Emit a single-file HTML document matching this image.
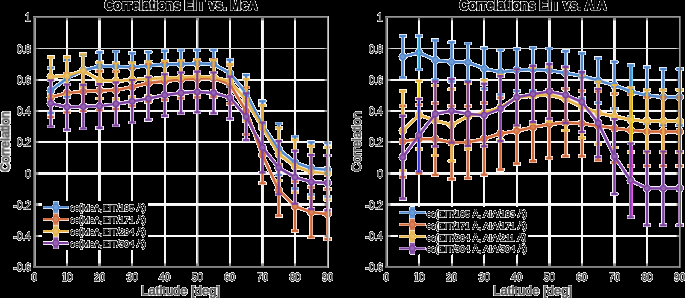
<!DOCTYPE html>
<html><head><meta charset="utf-8"><style>
html,body{margin:0;padding:0;background:#000;overflow:hidden;}
svg{display:block;will-change:transform;}
text{font-family:"Liberation Sans",sans-serif;}
.tl{font-size:10.1px;fill:#454545;stroke:#454545;stroke-width:0.5px;}
.ti{font-size:13px;font-weight:bold;fill:#000;stroke:#000;stroke-width:0.85px;}
.xl{font-size:13px;fill:#5a5a5a;stroke:#5a5a5a;stroke-width:0.85px;}
.yl{font-size:12.3px;fill:#5a5a5a;stroke:#5a5a5a;stroke-width:0.85px;}
.lg{font-size:9.05px;fill:#101010;stroke:#101010;stroke-width:0.5px;}
</style></head>
<body><svg width="685" height="298" viewBox="0 0 685 298">
<defs><filter id="wk" filterUnits="userSpaceOnUse" x="0" y="0" width="685" height="298" color-interpolation-filters="sRGB">
<feColorMatrix in="SourceGraphic" type="matrix" values="0 0 0 0 0  0 0 0 0 0  0 0 0 0 0  0.3333 0.3333 0.3334 0 0" result="lum"/>
<feComponentTransfer in="lum" result="mask"><feFuncA type="linear" slope="255.0" intercept="-254.0"/></feComponentTransfer>
<feComposite in="SourceGraphic" in2="mask" operator="out"/>
</filter></defs>
<rect width="685" height="298" fill="#000"/>
<g filter="url(#wk)">
<rect width="685" height="298" fill="#fff"/>
<rect x="66" y="18" width="1" height="248" fill="#fafafa"/>
<rect x="67" y="18" width="1" height="248" fill="#f2f2f2"/>
<rect x="98" y="18" width="1" height="248" fill="#fafafa"/>
<rect x="99" y="18" width="1" height="248" fill="#f5f5f5"/>
<rect x="100" y="18" width="1" height="248" fill="#f0f0f0"/>
<rect x="131" y="18" width="1" height="248" fill="#fafafa"/>
<rect x="132" y="18" width="1" height="248" fill="#f5f5f5"/>
<rect x="164" y="18" width="1" height="248" fill="#fafafa"/>
<rect x="165" y="18" width="1" height="248" fill="#f5f5f5"/>
<rect x="196" y="18" width="1" height="248" fill="#fafafa"/>
<rect x="197" y="18" width="1" height="248" fill="#cdcdcd"/>
<rect x="198" y="18" width="1" height="248" fill="#646464"/>
<rect x="229" y="18" width="1" height="248" fill="#fafafa"/>
<rect x="230" y="18" width="1" height="248" fill="#f5f5f5"/>
<rect x="261" y="18" width="1" height="248" fill="#fafafa"/>
<rect x="262" y="18" width="1" height="248" fill="#f2f2f2"/>
<rect x="263" y="18" width="1" height="248" fill="#eeeeee"/>
<rect x="294" y="18" width="1" height="248" fill="#fafafa"/>
<rect x="295" y="18" width="1" height="248" fill="#f5f5f5"/>
<rect x="36" y="48" width="291" height="1" fill="#d7d7d7"/>
<rect x="36" y="79" width="291" height="1" fill="#fafafa"/>
<rect x="36" y="80" width="291" height="1" fill="#f5f5f5"/>
<rect x="36" y="110" width="291" height="1" fill="#fafafa"/>
<rect x="36" y="111" width="291" height="1" fill="#f5f5f5"/>
<rect x="36" y="141" width="291" height="1" fill="#fafafa"/>
<rect x="36" y="142" width="291" height="1" fill="#f5f5f5"/>
<rect x="36" y="172" width="291" height="1" fill="#fafafa"/>
<rect x="36" y="173" width="291" height="1" fill="#f5f5f5"/>
<rect x="36" y="174" width="291" height="1" fill="#f0f0f0"/>
<rect x="36" y="203" width="291" height="1" fill="#fafafa"/>
<rect x="36" y="204" width="291" height="1" fill="#fafafa"/>
<rect x="36" y="205" width="291" height="1" fill="#f0f0f0"/>
<rect x="36" y="235" width="291" height="1" fill="#fafafa"/>
<rect x="36" y="236" width="291" height="1" fill="#fafafa"/>
<path d="M50.72 67.22V113.53M47.12 67.72h7.2M47.12 113.03h7.2" stroke="#b9cfeb" stroke-width="3.1" fill="none"/>
<path d="M67.00 59.41V97.28M63.40 59.91h7.2M63.40 96.78h7.2" stroke="#b9cfeb" stroke-width="3.1" fill="none"/>
<path d="M83.29 54.25V86.50M79.69 54.75h7.2M79.69 86.00h7.2" stroke="#b9cfeb" stroke-width="3.1" fill="none"/>
<path d="M99.57 51.75V80.88M95.97 52.25h7.2M95.97 80.38h7.2" stroke="#b9cfeb" stroke-width="3.1" fill="none"/>
<path d="M115.86 50.97V81.66M112.26 51.47h7.2M112.26 81.16h7.2" stroke="#b9cfeb" stroke-width="3.1" fill="none"/>
<path d="M132.14 52.69V81.81M128.54 53.19h7.2M128.54 81.31h7.2" stroke="#b9cfeb" stroke-width="3.1" fill="none"/>
<path d="M148.43 51.44V79.94M144.83 51.94h7.2M144.83 79.44h7.2" stroke="#b9cfeb" stroke-width="3.1" fill="none"/>
<path d="M164.71 50.34V77.91M161.11 50.84h7.2M161.11 77.41h7.2" stroke="#b9cfeb" stroke-width="3.1" fill="none"/>
<path d="M181.00 49.72V78.53M177.40 50.22h7.2M177.40 78.03h7.2" stroke="#b9cfeb" stroke-width="3.1" fill="none"/>
<path d="M197.29 49.56V77.12M193.69 50.06h7.2M193.69 76.62h7.2" stroke="#b9cfeb" stroke-width="3.1" fill="none"/>
<path d="M213.57 49.56V78.69M209.97 50.06h7.2M209.97 78.19h7.2" stroke="#b9cfeb" stroke-width="3.1" fill="none"/>
<path d="M229.86 59.41V86.97M226.26 59.91h7.2M226.26 86.47h7.2" stroke="#b9cfeb" stroke-width="3.1" fill="none"/>
<path d="M246.14 74.56V112.12M242.54 75.06h7.2M242.54 111.62h7.2" stroke="#b9cfeb" stroke-width="3.1" fill="none"/>
<path d="M262.43 100.81V149.31M258.83 101.31h7.2M258.83 148.81h7.2" stroke="#b9cfeb" stroke-width="3.1" fill="none"/>
<path d="M278.71 123.00V175.56M275.11 123.50h7.2M275.11 175.06h7.2" stroke="#b9cfeb" stroke-width="3.1" fill="none"/>
<path d="M295.00 135.97V189.16M291.40 136.47h7.2M291.40 188.66h7.2" stroke="#b9cfeb" stroke-width="3.1" fill="none"/>
<path d="M311.28 141.75V194.94M307.68 142.25h7.2M307.68 194.44h7.2" stroke="#b9cfeb" stroke-width="3.1" fill="none"/>
<path d="M327.57 142.53V196.97M323.97 143.03h7.2M323.97 196.47h7.2" stroke="#b9cfeb" stroke-width="3.1" fill="none"/>
<polyline points="50.72,90.38 67.00,78.34 83.29,70.38 99.57,66.31 115.86,66.31 132.14,67.25 148.43,65.69 164.71,64.13 181.00,64.13 197.29,63.34 213.57,64.13 229.86,73.19 246.14,93.34 262.43,125.06 278.71,149.28 295.00,162.56 311.28,168.34 327.57,169.75" fill="none" stroke="#b9cfeb" stroke-width="3.2" stroke-linejoin="round"/>
<circle cx="50.72" cy="90.38" r="3.8" fill="#b9cfeb"/>
<circle cx="67.00" cy="78.34" r="3.8" fill="#b9cfeb"/>
<circle cx="83.29" cy="70.38" r="3.8" fill="#b9cfeb"/>
<circle cx="99.57" cy="66.31" r="3.8" fill="#b9cfeb"/>
<circle cx="115.86" cy="66.31" r="3.8" fill="#b9cfeb"/>
<circle cx="132.14" cy="67.25" r="3.8" fill="#b9cfeb"/>
<circle cx="148.43" cy="65.69" r="3.8" fill="#b9cfeb"/>
<circle cx="164.71" cy="64.13" r="3.8" fill="#b9cfeb"/>
<circle cx="181.00" cy="64.13" r="3.8" fill="#b9cfeb"/>
<circle cx="197.29" cy="63.34" r="3.8" fill="#b9cfeb"/>
<circle cx="213.57" cy="64.13" r="3.8" fill="#b9cfeb"/>
<circle cx="229.86" cy="73.19" r="3.8" fill="#b9cfeb"/>
<circle cx="246.14" cy="93.34" r="3.8" fill="#b9cfeb"/>
<circle cx="262.43" cy="125.06" r="3.8" fill="#b9cfeb"/>
<circle cx="278.71" cy="149.28" r="3.8" fill="#b9cfeb"/>
<circle cx="295.00" cy="162.56" r="3.8" fill="#b9cfeb"/>
<circle cx="311.28" cy="168.34" r="3.8" fill="#b9cfeb"/>
<circle cx="327.57" cy="169.75" r="3.8" fill="#b9cfeb"/>
<path d="M50.72 77.06V117.44M47.12 77.56h7.2M47.12 116.94h7.2" stroke="#ecc3b0" stroke-width="3.1" fill="none"/>
<path d="M67.00 73.00V113.06M63.40 73.50h7.2M63.40 112.56h7.2" stroke="#ecc3b0" stroke-width="3.1" fill="none"/>
<path d="M83.29 71.44V111.50M79.69 71.94h7.2M79.69 111.00h7.2" stroke="#ecc3b0" stroke-width="3.1" fill="none"/>
<path d="M99.57 70.66V110.72M95.97 71.16h7.2M95.97 110.22h7.2" stroke="#ecc3b0" stroke-width="3.1" fill="none"/>
<path d="M115.86 70.97V109.47M112.26 71.47h7.2M112.26 108.97h7.2" stroke="#ecc3b0" stroke-width="3.1" fill="none"/>
<path d="M132.14 67.69V106.19M128.54 68.19h7.2M128.54 105.69h7.2" stroke="#ecc3b0" stroke-width="3.1" fill="none"/>
<path d="M148.43 63.63V102.13M144.83 64.13h7.2M144.83 101.63h7.2" stroke="#ecc3b0" stroke-width="3.1" fill="none"/>
<path d="M164.71 61.91V100.41M161.11 62.41h7.2M161.11 99.91h7.2" stroke="#ecc3b0" stroke-width="3.1" fill="none"/>
<path d="M181.00 60.19V98.69M177.40 60.69h7.2M177.40 98.19h7.2" stroke="#ecc3b0" stroke-width="3.1" fill="none"/>
<path d="M197.29 59.41V97.91M193.69 59.91h7.2M193.69 97.41h7.2" stroke="#ecc3b0" stroke-width="3.1" fill="none"/>
<path d="M213.57 58.94V97.44M209.97 59.44h7.2M209.97 96.94h7.2" stroke="#ecc3b0" stroke-width="3.1" fill="none"/>
<path d="M229.86 64.09V104.16M226.26 64.59h7.2M226.26 103.66h7.2" stroke="#ecc3b0" stroke-width="3.1" fill="none"/>
<path d="M246.14 87.06V134.94M242.54 87.56h7.2M242.54 134.44h7.2" stroke="#ecc3b0" stroke-width="3.1" fill="none"/>
<path d="M262.43 126.44V183.69M258.83 126.94h7.2M258.83 183.19h7.2" stroke="#ecc3b0" stroke-width="3.1" fill="none"/>
<path d="M278.71 163.94V216.19M275.11 164.44h7.2M275.11 215.69h7.2" stroke="#ecc3b0" stroke-width="3.1" fill="none"/>
<path d="M295.00 181.28V231.34M291.40 181.78h7.2M291.40 230.84h7.2" stroke="#ecc3b0" stroke-width="3.1" fill="none"/>
<path d="M311.28 186.75V237.75M307.68 187.25h7.2M307.68 237.25h7.2" stroke="#ecc3b0" stroke-width="3.1" fill="none"/>
<path d="M327.57 188.62V239.63M323.97 189.12h7.2M323.97 239.13h7.2" stroke="#ecc3b0" stroke-width="3.1" fill="none"/>
<polyline points="50.72,97.25 67.00,93.03 83.29,91.47 99.57,90.69 115.86,90.22 132.14,86.94 148.43,82.88 164.71,81.16 181.00,79.44 197.29,78.66 213.57,78.19 229.86,84.13 246.14,111.00 262.43,155.06 278.71,190.06 295.00,206.31 311.28,212.25 327.57,214.12" fill="none" stroke="#ecc3b0" stroke-width="3.2" stroke-linejoin="round"/>
<circle cx="50.72" cy="97.25" r="3.8" fill="#ecc3b0"/>
<circle cx="67.00" cy="93.03" r="3.8" fill="#ecc3b0"/>
<circle cx="83.29" cy="91.47" r="3.8" fill="#ecc3b0"/>
<circle cx="99.57" cy="90.69" r="3.8" fill="#ecc3b0"/>
<circle cx="115.86" cy="90.22" r="3.8" fill="#ecc3b0"/>
<circle cx="132.14" cy="86.94" r="3.8" fill="#ecc3b0"/>
<circle cx="148.43" cy="82.88" r="3.8" fill="#ecc3b0"/>
<circle cx="164.71" cy="81.16" r="3.8" fill="#ecc3b0"/>
<circle cx="181.00" cy="79.44" r="3.8" fill="#ecc3b0"/>
<circle cx="197.29" cy="78.66" r="3.8" fill="#ecc3b0"/>
<circle cx="213.57" cy="78.19" r="3.8" fill="#ecc3b0"/>
<circle cx="229.86" cy="84.13" r="3.8" fill="#ecc3b0"/>
<circle cx="246.14" cy="111.00" r="3.8" fill="#ecc3b0"/>
<circle cx="262.43" cy="155.06" r="3.8" fill="#ecc3b0"/>
<circle cx="278.71" cy="190.06" r="3.8" fill="#ecc3b0"/>
<circle cx="295.00" cy="206.31" r="3.8" fill="#ecc3b0"/>
<circle cx="311.28" cy="212.25" r="3.8" fill="#ecc3b0"/>
<circle cx="327.57" cy="214.12" r="3.8" fill="#ecc3b0"/>
<path d="M50.72 56.75V97.12M47.12 57.25h7.2M47.12 96.62h7.2" stroke="#f4e0b5" stroke-width="3.1" fill="none"/>
<path d="M67.00 56.59V95.09M63.40 57.09h7.2M63.40 94.59h7.2" stroke="#f4e0b5" stroke-width="3.1" fill="none"/>
<path d="M83.29 53.78V87.59M79.69 54.28h7.2M79.69 87.09h7.2" stroke="#f4e0b5" stroke-width="3.1" fill="none"/>
<path d="M99.57 61.75V99.00M95.97 62.25h7.2M95.97 98.50h7.2" stroke="#f4e0b5" stroke-width="3.1" fill="none"/>
<path d="M115.86 62.69V99.62M112.26 63.19h7.2M112.26 99.12h7.2" stroke="#f4e0b5" stroke-width="3.1" fill="none"/>
<path d="M132.14 62.06V97.44M128.54 62.56h7.2M128.54 96.94h7.2" stroke="#f4e0b5" stroke-width="3.1" fill="none"/>
<path d="M148.43 61.13V96.50M144.83 61.63h7.2M144.83 96.00h7.2" stroke="#f4e0b5" stroke-width="3.1" fill="none"/>
<path d="M164.71 60.50V95.88M161.11 61.00h7.2M161.11 95.38h7.2" stroke="#f4e0b5" stroke-width="3.1" fill="none"/>
<path d="M181.00 60.03V95.41M177.40 60.53h7.2M177.40 94.91h7.2" stroke="#f4e0b5" stroke-width="3.1" fill="none"/>
<path d="M197.29 58.94V94.31M193.69 59.44h7.2M193.69 93.81h7.2" stroke="#f4e0b5" stroke-width="3.1" fill="none"/>
<path d="M213.57 59.56V94.94M209.97 60.06h7.2M209.97 94.44h7.2" stroke="#f4e0b5" stroke-width="3.1" fill="none"/>
<path d="M229.86 63.63V99.00M226.26 64.13h7.2M226.26 98.50h7.2" stroke="#f4e0b5" stroke-width="3.1" fill="none"/>
<path d="M246.14 78.63V121.50M242.54 79.13h7.2M242.54 121.00h7.2" stroke="#f4e0b5" stroke-width="3.1" fill="none"/>
<path d="M262.43 104.88V149.94M258.83 105.38h7.2M258.83 149.44h7.2" stroke="#f4e0b5" stroke-width="3.1" fill="none"/>
<path d="M278.71 127.22V181.03M275.11 127.72h7.2M275.11 180.53h7.2" stroke="#f4e0b5" stroke-width="3.1" fill="none"/>
<path d="M295.00 139.25V193.06M291.40 139.75h7.2M291.40 192.56h7.2" stroke="#f4e0b5" stroke-width="3.1" fill="none"/>
<path d="M311.28 145.34V198.53M307.68 145.84h7.2M307.68 198.03h7.2" stroke="#f4e0b5" stroke-width="3.1" fill="none"/>
<path d="M327.57 146.75V200.25M323.97 147.25h7.2M323.97 199.75h7.2" stroke="#f4e0b5" stroke-width="3.1" fill="none"/>
<polyline points="50.72,76.94 67.00,75.84 83.29,70.69 99.57,80.38 115.86,81.16 132.14,79.75 148.43,78.81 164.71,78.19 181.00,77.72 197.29,76.62 213.57,77.25 229.86,81.31 246.14,100.06 262.43,127.41 278.71,154.12 295.00,166.16 311.28,171.94 327.57,173.50" fill="none" stroke="#f4e0b5" stroke-width="3.2" stroke-linejoin="round"/>
<circle cx="50.72" cy="76.94" r="3.8" fill="#f4e0b5"/>
<circle cx="67.00" cy="75.84" r="3.8" fill="#f4e0b5"/>
<circle cx="83.29" cy="70.69" r="3.8" fill="#f4e0b5"/>
<circle cx="99.57" cy="80.38" r="3.8" fill="#f4e0b5"/>
<circle cx="115.86" cy="81.16" r="3.8" fill="#f4e0b5"/>
<circle cx="132.14" cy="79.75" r="3.8" fill="#f4e0b5"/>
<circle cx="148.43" cy="78.81" r="3.8" fill="#f4e0b5"/>
<circle cx="164.71" cy="78.19" r="3.8" fill="#f4e0b5"/>
<circle cx="181.00" cy="77.72" r="3.8" fill="#f4e0b5"/>
<circle cx="197.29" cy="76.62" r="3.8" fill="#f4e0b5"/>
<circle cx="213.57" cy="77.25" r="3.8" fill="#f4e0b5"/>
<circle cx="229.86" cy="81.31" r="3.8" fill="#f4e0b5"/>
<circle cx="246.14" cy="100.06" r="3.8" fill="#f4e0b5"/>
<circle cx="262.43" cy="127.41" r="3.8" fill="#f4e0b5"/>
<circle cx="278.71" cy="154.12" r="3.8" fill="#f4e0b5"/>
<circle cx="295.00" cy="166.16" r="3.8" fill="#f4e0b5"/>
<circle cx="311.28" cy="171.94" r="3.8" fill="#f4e0b5"/>
<circle cx="327.57" cy="173.50" r="3.8" fill="#f4e0b5"/>
<path d="M50.72 79.72V126.97M47.12 80.22h7.2M47.12 126.47h7.2" stroke="#cbb3d9" stroke-width="3.1" fill="none"/>
<path d="M67.00 83.94V130.25M63.40 84.44h7.2M63.40 129.75h7.2" stroke="#cbb3d9" stroke-width="3.1" fill="none"/>
<path d="M83.29 84.25V129.00M79.69 84.75h7.2M79.69 128.50h7.2" stroke="#cbb3d9" stroke-width="3.1" fill="none"/>
<path d="M99.57 83.62V128.38M95.97 84.12h7.2M95.97 127.88h7.2" stroke="#cbb3d9" stroke-width="3.1" fill="none"/>
<path d="M115.86 81.91V126.03M112.26 82.41h7.2M112.26 125.53h7.2" stroke="#cbb3d9" stroke-width="3.1" fill="none"/>
<path d="M132.14 79.56V123.06M128.54 80.06h7.2M128.54 122.56h7.2" stroke="#cbb3d9" stroke-width="3.1" fill="none"/>
<path d="M148.43 76.75V120.25M144.83 77.25h7.2M144.83 119.75h7.2" stroke="#cbb3d9" stroke-width="3.1" fill="none"/>
<path d="M164.71 73.78V116.34M161.11 74.28h7.2M161.11 115.84h7.2" stroke="#cbb3d9" stroke-width="3.1" fill="none"/>
<path d="M181.00 72.06V113.69M177.40 72.56h7.2M177.40 113.19h7.2" stroke="#cbb3d9" stroke-width="3.1" fill="none"/>
<path d="M197.29 71.12V112.75M193.69 71.62h7.2M193.69 112.25h7.2" stroke="#cbb3d9" stroke-width="3.1" fill="none"/>
<path d="M213.57 72.06V113.69M209.97 72.56h7.2M209.97 113.19h7.2" stroke="#cbb3d9" stroke-width="3.1" fill="none"/>
<path d="M229.86 76.12V119.31M226.26 76.62h7.2M226.26 118.81h7.2" stroke="#cbb3d9" stroke-width="3.1" fill="none"/>
<path d="M246.14 92.69V140.56M242.54 93.19h7.2M242.54 140.06h7.2" stroke="#cbb3d9" stroke-width="3.1" fill="none"/>
<path d="M262.43 122.06V173.06M258.83 122.56h7.2M258.83 172.56h7.2" stroke="#cbb3d9" stroke-width="3.1" fill="none"/>
<path d="M278.71 140.66V194.78M275.11 141.16h7.2M275.11 194.28h7.2" stroke="#cbb3d9" stroke-width="3.1" fill="none"/>
<path d="M295.00 150.19V204.31M291.40 150.69h7.2M291.40 203.81h7.2" stroke="#cbb3d9" stroke-width="3.1" fill="none"/>
<path d="M311.28 154.56V209.62M307.68 155.06h7.2M307.68 209.12h7.2" stroke="#cbb3d9" stroke-width="3.1" fill="none"/>
<path d="M327.57 155.03V210.72M323.97 155.53h7.2M323.97 210.22h7.2" stroke="#cbb3d9" stroke-width="3.1" fill="none"/>
<polyline points="50.72,103.34 67.00,107.09 83.29,106.62 99.57,106.00 115.86,103.97 132.14,101.31 148.43,98.50 164.71,95.06 181.00,92.88 197.29,91.94 213.57,92.88 229.86,97.72 246.14,116.63 262.43,147.56 278.71,167.72 295.00,177.25 311.28,182.09 327.57,182.88" fill="none" stroke="#cbb3d9" stroke-width="3.2" stroke-linejoin="round"/>
<circle cx="50.72" cy="103.34" r="3.8" fill="#cbb3d9"/>
<circle cx="67.00" cy="107.09" r="3.8" fill="#cbb3d9"/>
<circle cx="83.29" cy="106.62" r="3.8" fill="#cbb3d9"/>
<circle cx="99.57" cy="106.00" r="3.8" fill="#cbb3d9"/>
<circle cx="115.86" cy="103.97" r="3.8" fill="#cbb3d9"/>
<circle cx="132.14" cy="101.31" r="3.8" fill="#cbb3d9"/>
<circle cx="148.43" cy="98.50" r="3.8" fill="#cbb3d9"/>
<circle cx="164.71" cy="95.06" r="3.8" fill="#cbb3d9"/>
<circle cx="181.00" cy="92.88" r="3.8" fill="#cbb3d9"/>
<circle cx="197.29" cy="91.94" r="3.8" fill="#cbb3d9"/>
<circle cx="213.57" cy="92.88" r="3.8" fill="#cbb3d9"/>
<circle cx="229.86" cy="97.72" r="3.8" fill="#cbb3d9"/>
<circle cx="246.14" cy="116.63" r="3.8" fill="#cbb3d9"/>
<circle cx="262.43" cy="147.56" r="3.8" fill="#cbb3d9"/>
<circle cx="278.71" cy="167.72" r="3.8" fill="#cbb3d9"/>
<circle cx="295.00" cy="177.25" r="3.8" fill="#cbb3d9"/>
<circle cx="311.28" cy="182.09" r="3.8" fill="#cbb3d9"/>
<circle cx="327.57" cy="182.88" r="3.8" fill="#cbb3d9"/>
<path d="M50.72 67.72V113.03M47.62 67.72h6.2M47.62 113.03h6.2" stroke="#4f86cc" stroke-width="2.1" fill="none"/>
<path d="M67.00 59.91V96.78M63.90 59.91h6.2M63.90 96.78h6.2" stroke="#4f86cc" stroke-width="2.1" fill="none"/>
<path d="M83.29 54.75V86.00M80.19 54.75h6.2M80.19 86.00h6.2" stroke="#4f86cc" stroke-width="2.1" fill="none"/>
<path d="M99.57 52.25V80.38M96.47 52.25h6.2M96.47 80.38h6.2" stroke="#4f86cc" stroke-width="2.1" fill="none"/>
<path d="M115.86 51.47V81.16M112.76 51.47h6.2M112.76 81.16h6.2" stroke="#4f86cc" stroke-width="2.1" fill="none"/>
<path d="M132.14 53.19V81.31M129.04 53.19h6.2M129.04 81.31h6.2" stroke="#4f86cc" stroke-width="2.1" fill="none"/>
<path d="M148.43 51.94V79.44M145.33 51.94h6.2M145.33 79.44h6.2" stroke="#4f86cc" stroke-width="2.1" fill="none"/>
<path d="M164.71 50.84V77.41M161.61 50.84h6.2M161.61 77.41h6.2" stroke="#4f86cc" stroke-width="2.1" fill="none"/>
<path d="M181.00 50.22V78.03M177.90 50.22h6.2M177.90 78.03h6.2" stroke="#4f86cc" stroke-width="2.1" fill="none"/>
<path d="M197.29 50.06V76.62M194.19 50.06h6.2M194.19 76.62h6.2" stroke="#4f86cc" stroke-width="2.1" fill="none"/>
<path d="M213.57 50.06V78.19M210.47 50.06h6.2M210.47 78.19h6.2" stroke="#4f86cc" stroke-width="2.1" fill="none"/>
<path d="M229.86 59.91V86.47M226.76 59.91h6.2M226.76 86.47h6.2" stroke="#4f86cc" stroke-width="2.1" fill="none"/>
<path d="M246.14 75.06V111.62M243.04 75.06h6.2M243.04 111.62h6.2" stroke="#4f86cc" stroke-width="2.1" fill="none"/>
<path d="M262.43 101.31V148.81M259.33 101.31h6.2M259.33 148.81h6.2" stroke="#4f86cc" stroke-width="2.1" fill="none"/>
<path d="M278.71 123.50V175.06M275.61 123.50h6.2M275.61 175.06h6.2" stroke="#4f86cc" stroke-width="2.1" fill="none"/>
<path d="M295.00 136.47V188.66M291.90 136.47h6.2M291.90 188.66h6.2" stroke="#4f86cc" stroke-width="2.1" fill="none"/>
<path d="M311.28 142.25V194.44M308.18 142.25h6.2M308.18 194.44h6.2" stroke="#4f86cc" stroke-width="2.1" fill="none"/>
<path d="M327.57 143.03V196.47M324.47 143.03h6.2M324.47 196.47h6.2" stroke="#4f86cc" stroke-width="2.1" fill="none"/>
<polyline points="50.72,90.38 67.00,78.34 83.29,70.38 99.57,66.31 115.86,66.31 132.14,67.25 148.43,65.69 164.71,64.13 181.00,64.13 197.29,63.34 213.57,64.13 229.86,73.19 246.14,93.34 262.43,125.06 278.71,149.28 295.00,162.56 311.28,168.34 327.57,169.75" fill="none" stroke="#4f86cc" stroke-width="2.2" stroke-linejoin="round"/>
<circle cx="50.72" cy="90.38" r="2.70" fill="#6f9cd5" stroke="#4f86cc" stroke-width="1.2"/>
<circle cx="67.00" cy="78.34" r="2.70" fill="#6f9cd5" stroke="#4f86cc" stroke-width="1.2"/>
<circle cx="83.29" cy="70.38" r="2.70" fill="#6f9cd5" stroke="#4f86cc" stroke-width="1.2"/>
<circle cx="99.57" cy="66.31" r="2.70" fill="#6f9cd5" stroke="#4f86cc" stroke-width="1.2"/>
<circle cx="115.86" cy="66.31" r="2.70" fill="#6f9cd5" stroke="#4f86cc" stroke-width="1.2"/>
<circle cx="132.14" cy="67.25" r="2.70" fill="#6f9cd5" stroke="#4f86cc" stroke-width="1.2"/>
<circle cx="148.43" cy="65.69" r="2.70" fill="#6f9cd5" stroke="#4f86cc" stroke-width="1.2"/>
<circle cx="164.71" cy="64.13" r="2.70" fill="#6f9cd5" stroke="#4f86cc" stroke-width="1.2"/>
<circle cx="181.00" cy="64.13" r="2.70" fill="#6f9cd5" stroke="#4f86cc" stroke-width="1.2"/>
<circle cx="197.29" cy="63.34" r="2.70" fill="#6f9cd5" stroke="#4f86cc" stroke-width="1.2"/>
<circle cx="213.57" cy="64.13" r="2.70" fill="#6f9cd5" stroke="#4f86cc" stroke-width="1.2"/>
<circle cx="229.86" cy="73.19" r="2.70" fill="#6f9cd5" stroke="#4f86cc" stroke-width="1.2"/>
<circle cx="246.14" cy="93.34" r="2.70" fill="#6f9cd5" stroke="#4f86cc" stroke-width="1.2"/>
<circle cx="262.43" cy="125.06" r="2.70" fill="#6f9cd5" stroke="#4f86cc" stroke-width="1.2"/>
<circle cx="278.71" cy="149.28" r="2.70" fill="#6f9cd5" stroke="#4f86cc" stroke-width="1.2"/>
<circle cx="295.00" cy="162.56" r="2.70" fill="#6f9cd5" stroke="#4f86cc" stroke-width="1.2"/>
<circle cx="311.28" cy="168.34" r="2.70" fill="#6f9cd5" stroke="#4f86cc" stroke-width="1.2"/>
<circle cx="327.57" cy="169.75" r="2.70" fill="#6f9cd5" stroke="#4f86cc" stroke-width="1.2"/>
<path d="M50.72 77.56V116.94M47.62 77.56h6.2M47.62 116.94h6.2" stroke="#d0683a" stroke-width="2.1" fill="none"/>
<path d="M67.00 73.50V112.56M63.90 73.50h6.2M63.90 112.56h6.2" stroke="#d0683a" stroke-width="2.1" fill="none"/>
<path d="M83.29 71.94V111.00M80.19 71.94h6.2M80.19 111.00h6.2" stroke="#d0683a" stroke-width="2.1" fill="none"/>
<path d="M99.57 71.16V110.22M96.47 71.16h6.2M96.47 110.22h6.2" stroke="#d0683a" stroke-width="2.1" fill="none"/>
<path d="M115.86 71.47V108.97M112.76 71.47h6.2M112.76 108.97h6.2" stroke="#d0683a" stroke-width="2.1" fill="none"/>
<path d="M132.14 68.19V105.69M129.04 68.19h6.2M129.04 105.69h6.2" stroke="#d0683a" stroke-width="2.1" fill="none"/>
<path d="M148.43 64.13V101.63M145.33 64.13h6.2M145.33 101.63h6.2" stroke="#d0683a" stroke-width="2.1" fill="none"/>
<path d="M164.71 62.41V99.91M161.61 62.41h6.2M161.61 99.91h6.2" stroke="#d0683a" stroke-width="2.1" fill="none"/>
<path d="M181.00 60.69V98.19M177.90 60.69h6.2M177.90 98.19h6.2" stroke="#d0683a" stroke-width="2.1" fill="none"/>
<path d="M197.29 59.91V97.41M194.19 59.91h6.2M194.19 97.41h6.2" stroke="#d0683a" stroke-width="2.1" fill="none"/>
<path d="M213.57 59.44V96.94M210.47 59.44h6.2M210.47 96.94h6.2" stroke="#d0683a" stroke-width="2.1" fill="none"/>
<path d="M229.86 64.59V103.66M226.76 64.59h6.2M226.76 103.66h6.2" stroke="#d0683a" stroke-width="2.1" fill="none"/>
<path d="M246.14 87.56V134.44M243.04 87.56h6.2M243.04 134.44h6.2" stroke="#d0683a" stroke-width="2.1" fill="none"/>
<path d="M262.43 126.94V183.19M259.33 126.94h6.2M259.33 183.19h6.2" stroke="#d0683a" stroke-width="2.1" fill="none"/>
<path d="M278.71 164.44V215.69M275.61 164.44h6.2M275.61 215.69h6.2" stroke="#d0683a" stroke-width="2.1" fill="none"/>
<path d="M295.00 181.78V230.84M291.90 181.78h6.2M291.90 230.84h6.2" stroke="#d0683a" stroke-width="2.1" fill="none"/>
<path d="M311.28 187.25V237.25M308.18 187.25h6.2M308.18 237.25h6.2" stroke="#d0683a" stroke-width="2.1" fill="none"/>
<path d="M327.57 189.12V239.13M324.47 189.12h6.2M324.47 239.13h6.2" stroke="#d0683a" stroke-width="2.1" fill="none"/>
<polyline points="50.72,97.25 67.00,93.03 83.29,91.47 99.57,90.69 115.86,90.22 132.14,86.94 148.43,82.88 164.71,81.16 181.00,79.44 197.29,78.66 213.57,78.19 229.86,84.13 246.14,111.00 262.43,155.06 278.71,190.06 295.00,206.31 311.28,212.25 327.57,214.12" fill="none" stroke="#d0683a" stroke-width="2.2" stroke-linejoin="round"/>
<circle cx="50.72" cy="97.25" r="2.70" fill="#d8835d" stroke="#d0683a" stroke-width="1.2"/>
<circle cx="67.00" cy="93.03" r="2.70" fill="#d8835d" stroke="#d0683a" stroke-width="1.2"/>
<circle cx="83.29" cy="91.47" r="2.70" fill="#d8835d" stroke="#d0683a" stroke-width="1.2"/>
<circle cx="99.57" cy="90.69" r="2.70" fill="#d8835d" stroke="#d0683a" stroke-width="1.2"/>
<circle cx="115.86" cy="90.22" r="2.70" fill="#d8835d" stroke="#d0683a" stroke-width="1.2"/>
<circle cx="132.14" cy="86.94" r="2.70" fill="#d8835d" stroke="#d0683a" stroke-width="1.2"/>
<circle cx="148.43" cy="82.88" r="2.70" fill="#d8835d" stroke="#d0683a" stroke-width="1.2"/>
<circle cx="164.71" cy="81.16" r="2.70" fill="#d8835d" stroke="#d0683a" stroke-width="1.2"/>
<circle cx="181.00" cy="79.44" r="2.70" fill="#d8835d" stroke="#d0683a" stroke-width="1.2"/>
<circle cx="197.29" cy="78.66" r="2.70" fill="#d8835d" stroke="#d0683a" stroke-width="1.2"/>
<circle cx="213.57" cy="78.19" r="2.70" fill="#d8835d" stroke="#d0683a" stroke-width="1.2"/>
<circle cx="229.86" cy="84.13" r="2.70" fill="#d8835d" stroke="#d0683a" stroke-width="1.2"/>
<circle cx="246.14" cy="111.00" r="2.70" fill="#d8835d" stroke="#d0683a" stroke-width="1.2"/>
<circle cx="262.43" cy="155.06" r="2.70" fill="#d8835d" stroke="#d0683a" stroke-width="1.2"/>
<circle cx="278.71" cy="190.06" r="2.70" fill="#d8835d" stroke="#d0683a" stroke-width="1.2"/>
<circle cx="295.00" cy="206.31" r="2.70" fill="#d8835d" stroke="#d0683a" stroke-width="1.2"/>
<circle cx="311.28" cy="212.25" r="2.70" fill="#d8835d" stroke="#d0683a" stroke-width="1.2"/>
<circle cx="327.57" cy="214.12" r="2.70" fill="#d8835d" stroke="#d0683a" stroke-width="1.2"/>
<path d="M50.72 57.25V96.62M47.62 57.25h6.2M47.62 96.62h6.2" stroke="#e4b246" stroke-width="2.1" fill="none"/>
<path d="M67.00 57.09V94.59M63.90 57.09h6.2M63.90 94.59h6.2" stroke="#e4b246" stroke-width="2.1" fill="none"/>
<path d="M83.29 54.28V87.09M80.19 54.28h6.2M80.19 87.09h6.2" stroke="#e4b246" stroke-width="2.1" fill="none"/>
<path d="M99.57 62.25V98.50M96.47 62.25h6.2M96.47 98.50h6.2" stroke="#e4b246" stroke-width="2.1" fill="none"/>
<path d="M115.86 63.19V99.12M112.76 63.19h6.2M112.76 99.12h6.2" stroke="#e4b246" stroke-width="2.1" fill="none"/>
<path d="M132.14 62.56V96.94M129.04 62.56h6.2M129.04 96.94h6.2" stroke="#e4b246" stroke-width="2.1" fill="none"/>
<path d="M148.43 61.63V96.00M145.33 61.63h6.2M145.33 96.00h6.2" stroke="#e4b246" stroke-width="2.1" fill="none"/>
<path d="M164.71 61.00V95.38M161.61 61.00h6.2M161.61 95.38h6.2" stroke="#e4b246" stroke-width="2.1" fill="none"/>
<path d="M181.00 60.53V94.91M177.90 60.53h6.2M177.90 94.91h6.2" stroke="#e4b246" stroke-width="2.1" fill="none"/>
<path d="M197.29 59.44V93.81M194.19 59.44h6.2M194.19 93.81h6.2" stroke="#e4b246" stroke-width="2.1" fill="none"/>
<path d="M213.57 60.06V94.44M210.47 60.06h6.2M210.47 94.44h6.2" stroke="#e4b246" stroke-width="2.1" fill="none"/>
<path d="M229.86 64.13V98.50M226.76 64.13h6.2M226.76 98.50h6.2" stroke="#e4b246" stroke-width="2.1" fill="none"/>
<path d="M246.14 79.13V121.00M243.04 79.13h6.2M243.04 121.00h6.2" stroke="#e4b246" stroke-width="2.1" fill="none"/>
<path d="M262.43 105.38V149.44M259.33 105.38h6.2M259.33 149.44h6.2" stroke="#e4b246" stroke-width="2.1" fill="none"/>
<path d="M278.71 127.72V180.53M275.61 127.72h6.2M275.61 180.53h6.2" stroke="#e4b246" stroke-width="2.1" fill="none"/>
<path d="M295.00 139.75V192.56M291.90 139.75h6.2M291.90 192.56h6.2" stroke="#e4b246" stroke-width="2.1" fill="none"/>
<path d="M311.28 145.84V198.03M308.18 145.84h6.2M308.18 198.03h6.2" stroke="#e4b246" stroke-width="2.1" fill="none"/>
<path d="M327.57 147.25V199.75M324.47 147.25h6.2M324.47 199.75h6.2" stroke="#e4b246" stroke-width="2.1" fill="none"/>
<polyline points="50.72,76.94 67.00,75.84 83.29,70.69 99.57,80.38 115.86,81.16 132.14,79.75 148.43,78.81 164.71,78.19 181.00,77.72 197.29,76.62 213.57,77.25 229.86,81.31 246.14,100.06 262.43,127.41 278.71,154.12 295.00,166.16 311.28,171.94 327.57,173.50" fill="none" stroke="#e4b246" stroke-width="2.2" stroke-linejoin="round"/>
<circle cx="50.72" cy="76.94" r="2.70" fill="#e9c067" stroke="#e4b246" stroke-width="1.2"/>
<circle cx="67.00" cy="75.84" r="2.70" fill="#e9c067" stroke="#e4b246" stroke-width="1.2"/>
<circle cx="83.29" cy="70.69" r="2.70" fill="#e9c067" stroke="#e4b246" stroke-width="1.2"/>
<circle cx="99.57" cy="80.38" r="2.70" fill="#e9c067" stroke="#e4b246" stroke-width="1.2"/>
<circle cx="115.86" cy="81.16" r="2.70" fill="#e9c067" stroke="#e4b246" stroke-width="1.2"/>
<circle cx="132.14" cy="79.75" r="2.70" fill="#e9c067" stroke="#e4b246" stroke-width="1.2"/>
<circle cx="148.43" cy="78.81" r="2.70" fill="#e9c067" stroke="#e4b246" stroke-width="1.2"/>
<circle cx="164.71" cy="78.19" r="2.70" fill="#e9c067" stroke="#e4b246" stroke-width="1.2"/>
<circle cx="181.00" cy="77.72" r="2.70" fill="#e9c067" stroke="#e4b246" stroke-width="1.2"/>
<circle cx="197.29" cy="76.62" r="2.70" fill="#e9c067" stroke="#e4b246" stroke-width="1.2"/>
<circle cx="213.57" cy="77.25" r="2.70" fill="#e9c067" stroke="#e4b246" stroke-width="1.2"/>
<circle cx="229.86" cy="81.31" r="2.70" fill="#e9c067" stroke="#e4b246" stroke-width="1.2"/>
<circle cx="246.14" cy="100.06" r="2.70" fill="#e9c067" stroke="#e4b246" stroke-width="1.2"/>
<circle cx="262.43" cy="127.41" r="2.70" fill="#e9c067" stroke="#e4b246" stroke-width="1.2"/>
<circle cx="278.71" cy="154.12" r="2.70" fill="#e9c067" stroke="#e4b246" stroke-width="1.2"/>
<circle cx="295.00" cy="166.16" r="2.70" fill="#e9c067" stroke="#e4b246" stroke-width="1.2"/>
<circle cx="311.28" cy="171.94" r="2.70" fill="#e9c067" stroke="#e4b246" stroke-width="1.2"/>
<circle cx="327.57" cy="173.50" r="2.70" fill="#e9c067" stroke="#e4b246" stroke-width="1.2"/>
<path d="M50.72 80.22V126.47M47.62 80.22h6.2M47.62 126.47h6.2" stroke="#7d41a0" stroke-width="2.1" fill="none"/>
<path d="M67.00 84.44V129.75M63.90 84.44h6.2M63.90 129.75h6.2" stroke="#7d41a0" stroke-width="2.1" fill="none"/>
<path d="M83.29 84.75V128.50M80.19 84.75h6.2M80.19 128.50h6.2" stroke="#7d41a0" stroke-width="2.1" fill="none"/>
<path d="M99.57 84.12V127.88M96.47 84.12h6.2M96.47 127.88h6.2" stroke="#7d41a0" stroke-width="2.1" fill="none"/>
<path d="M115.86 82.41V125.53M112.76 82.41h6.2M112.76 125.53h6.2" stroke="#7d41a0" stroke-width="2.1" fill="none"/>
<path d="M132.14 80.06V122.56M129.04 80.06h6.2M129.04 122.56h6.2" stroke="#7d41a0" stroke-width="2.1" fill="none"/>
<path d="M148.43 77.25V119.75M145.33 77.25h6.2M145.33 119.75h6.2" stroke="#7d41a0" stroke-width="2.1" fill="none"/>
<path d="M164.71 74.28V115.84M161.61 74.28h6.2M161.61 115.84h6.2" stroke="#7d41a0" stroke-width="2.1" fill="none"/>
<path d="M181.00 72.56V113.19M177.90 72.56h6.2M177.90 113.19h6.2" stroke="#7d41a0" stroke-width="2.1" fill="none"/>
<path d="M197.29 71.62V112.25M194.19 71.62h6.2M194.19 112.25h6.2" stroke="#7d41a0" stroke-width="2.1" fill="none"/>
<path d="M213.57 72.56V113.19M210.47 72.56h6.2M210.47 113.19h6.2" stroke="#7d41a0" stroke-width="2.1" fill="none"/>
<path d="M229.86 76.62V118.81M226.76 76.62h6.2M226.76 118.81h6.2" stroke="#7d41a0" stroke-width="2.1" fill="none"/>
<path d="M246.14 93.19V140.06M243.04 93.19h6.2M243.04 140.06h6.2" stroke="#7d41a0" stroke-width="2.1" fill="none"/>
<path d="M262.43 122.56V172.56M259.33 122.56h6.2M259.33 172.56h6.2" stroke="#7d41a0" stroke-width="2.1" fill="none"/>
<path d="M278.71 141.16V194.28M275.61 141.16h6.2M275.61 194.28h6.2" stroke="#7d41a0" stroke-width="2.1" fill="none"/>
<path d="M295.00 150.69V203.81M291.90 150.69h6.2M291.90 203.81h6.2" stroke="#7d41a0" stroke-width="2.1" fill="none"/>
<path d="M311.28 155.06V209.12M308.18 155.06h6.2M308.18 209.12h6.2" stroke="#7d41a0" stroke-width="2.1" fill="none"/>
<path d="M327.57 155.53V210.22M324.47 155.53h6.2M324.47 210.22h6.2" stroke="#7d41a0" stroke-width="2.1" fill="none"/>
<polyline points="50.72,103.34 67.00,107.09 83.29,106.62 99.57,106.00 115.86,103.97 132.14,101.31 148.43,98.50 164.71,95.06 181.00,92.88 197.29,91.94 213.57,92.88 229.86,97.72 246.14,116.63 262.43,147.56 278.71,167.72 295.00,177.25 311.28,182.09 327.57,182.88" fill="none" stroke="#7d41a0" stroke-width="2.2" stroke-linejoin="round"/>
<circle cx="50.72" cy="103.34" r="2.70" fill="#9463b1" stroke="#7d41a0" stroke-width="1.2"/>
<circle cx="67.00" cy="107.09" r="2.70" fill="#9463b1" stroke="#7d41a0" stroke-width="1.2"/>
<circle cx="83.29" cy="106.62" r="2.70" fill="#9463b1" stroke="#7d41a0" stroke-width="1.2"/>
<circle cx="99.57" cy="106.00" r="2.70" fill="#9463b1" stroke="#7d41a0" stroke-width="1.2"/>
<circle cx="115.86" cy="103.97" r="2.70" fill="#9463b1" stroke="#7d41a0" stroke-width="1.2"/>
<circle cx="132.14" cy="101.31" r="2.70" fill="#9463b1" stroke="#7d41a0" stroke-width="1.2"/>
<circle cx="148.43" cy="98.50" r="2.70" fill="#9463b1" stroke="#7d41a0" stroke-width="1.2"/>
<circle cx="164.71" cy="95.06" r="2.70" fill="#9463b1" stroke="#7d41a0" stroke-width="1.2"/>
<circle cx="181.00" cy="92.88" r="2.70" fill="#9463b1" stroke="#7d41a0" stroke-width="1.2"/>
<circle cx="197.29" cy="91.94" r="2.70" fill="#9463b1" stroke="#7d41a0" stroke-width="1.2"/>
<circle cx="213.57" cy="92.88" r="2.70" fill="#9463b1" stroke="#7d41a0" stroke-width="1.2"/>
<circle cx="229.86" cy="97.72" r="2.70" fill="#9463b1" stroke="#7d41a0" stroke-width="1.2"/>
<circle cx="246.14" cy="116.63" r="2.70" fill="#9463b1" stroke="#7d41a0" stroke-width="1.2"/>
<circle cx="262.43" cy="147.56" r="2.70" fill="#9463b1" stroke="#7d41a0" stroke-width="1.2"/>
<circle cx="278.71" cy="167.72" r="2.70" fill="#9463b1" stroke="#7d41a0" stroke-width="1.2"/>
<circle cx="295.00" cy="177.25" r="2.70" fill="#9463b1" stroke="#7d41a0" stroke-width="1.2"/>
<circle cx="311.28" cy="182.09" r="2.70" fill="#9463b1" stroke="#7d41a0" stroke-width="1.2"/>
<circle cx="327.57" cy="182.88" r="2.70" fill="#9463b1" stroke="#7d41a0" stroke-width="1.2"/>
<rect x="33" y="16" width="1" height="252" fill="#5a5a5a"/>
<rect x="34" y="16" width="1" height="252" fill="#8c8c8c"/>
<rect x="35" y="16" width="1" height="252" fill="#a5a5a5"/>
<rect x="33" y="16" width="296" height="1" fill="#969696"/>
<rect x="33" y="17" width="296" height="1" fill="#6e6e6e"/>
<rect x="33" y="266" width="296" height="1" fill="#828282"/>
<rect x="33" y="267" width="296" height="1" fill="#787878"/>
<rect x="327" y="16" width="1" height="252" fill="#969696"/>
<rect x="328" y="16" width="1" height="252" fill="#d2d2d2"/>
<rect x="66" y="263.4" width="2" height="2.6" fill="#8a8a8a"/>
<rect x="66" y="18" width="2" height="2.4" fill="#8a8a8a"/>
<rect x="98" y="263.4" width="3" height="2.6" fill="#8a8a8a"/>
<rect x="98" y="18" width="3" height="2.4" fill="#8a8a8a"/>
<rect x="131" y="263.4" width="2" height="2.6" fill="#8a8a8a"/>
<rect x="131" y="18" width="2" height="2.4" fill="#8a8a8a"/>
<rect x="164" y="263.4" width="2" height="2.6" fill="#8a8a8a"/>
<rect x="164" y="18" width="2" height="2.4" fill="#8a8a8a"/>
<rect x="196" y="263.4" width="3" height="2.6" fill="#8a8a8a"/>
<rect x="196" y="18" width="3" height="2.4" fill="#8a8a8a"/>
<rect x="229" y="263.4" width="2" height="2.6" fill="#8a8a8a"/>
<rect x="229" y="18" width="2" height="2.4" fill="#8a8a8a"/>
<rect x="261" y="263.4" width="3" height="2.6" fill="#8a8a8a"/>
<rect x="261" y="18" width="3" height="2.4" fill="#8a8a8a"/>
<rect x="294" y="263.4" width="2" height="2.6" fill="#8a8a8a"/>
<rect x="294" y="18" width="2" height="2.4" fill="#8a8a8a"/>
<rect x="36" y="48" width="2.4" height="1" fill="#8a8a8a"/>
<rect x="324.6" y="48" width="2.4" height="1" fill="#8a8a8a"/>
<rect x="36" y="79" width="2.4" height="2" fill="#8a8a8a"/>
<rect x="324.6" y="79" width="2.4" height="2" fill="#8a8a8a"/>
<rect x="36" y="110" width="2.4" height="2" fill="#8a8a8a"/>
<rect x="324.6" y="110" width="2.4" height="2" fill="#8a8a8a"/>
<rect x="36" y="141" width="2.4" height="2" fill="#8a8a8a"/>
<rect x="324.6" y="141" width="2.4" height="2" fill="#8a8a8a"/>
<rect x="36" y="172" width="2.4" height="3" fill="#8a8a8a"/>
<rect x="324.6" y="172" width="2.4" height="3" fill="#8a8a8a"/>
<rect x="36" y="203" width="2.4" height="3" fill="#8a8a8a"/>
<rect x="324.6" y="203" width="2.4" height="3" fill="#8a8a8a"/>
<rect x="36" y="235" width="2.4" height="2" fill="#8a8a8a"/>
<rect x="324.6" y="235" width="2.4" height="2" fill="#8a8a8a"/>
<text class="tl" transform="translate(30.93,21.25) scale(1,1.1)" text-anchor="end">1</text>
<text class="tl" transform="translate(30.93,52.50) scale(1,1.1)" text-anchor="end">0.8</text>
<text class="tl" transform="translate(30.93,83.75) scale(1,1.1)" text-anchor="end">0.6</text>
<text class="tl" transform="translate(30.93,115.00) scale(1,1.1)" text-anchor="end">0.4</text>
<text class="tl" transform="translate(30.93,146.25) scale(1,1.1)" text-anchor="end">0.2</text>
<text class="tl" transform="translate(30.93,177.50) scale(1,1.1)" text-anchor="end">0</text>
<text class="tl" transform="translate(30.93,208.75) scale(1,1.1)" text-anchor="end">-0.2</text>
<text class="tl" transform="translate(30.93,240.00) scale(1,1.1)" text-anchor="end">-0.4</text>
<text class="tl" transform="translate(30.93,271.25) scale(1,1.1)" text-anchor="end">-0.6</text>
<text class="tl" transform="translate(34.43,280.80) scale(1,1.1)" text-anchor="middle">0</text>
<text class="tl" transform="translate(67.00,280.80) scale(1,1.1)" text-anchor="middle">10</text>
<text class="tl" transform="translate(99.57,280.80) scale(1,1.1)" text-anchor="middle">20</text>
<text class="tl" transform="translate(132.14,280.80) scale(1,1.1)" text-anchor="middle">30</text>
<text class="tl" transform="translate(164.71,280.80) scale(1,1.1)" text-anchor="middle">40</text>
<text class="tl" transform="translate(197.29,280.80) scale(1,1.1)" text-anchor="middle">50</text>
<text class="tl" transform="translate(229.86,280.80) scale(1,1.1)" text-anchor="middle">60</text>
<text class="tl" transform="translate(262.43,280.80) scale(1,1.1)" text-anchor="middle">70</text>
<text class="tl" transform="translate(295.00,280.80) scale(1,1.1)" text-anchor="middle">80</text>
<text class="tl" transform="translate(327.57,280.80) scale(1,1.1)" text-anchor="middle">90</text>
<text class="ti" transform="translate(181.00,9.50) scale(1,1.1)" text-anchor="middle">Correlations EIT vs. McA</text>
<text class="xl" transform="translate(180.70,295.30)" text-anchor="middle">Latitude [deg]</text>
<rect x="41.3" y="200.7" width="106.70" height="49.40" fill="#fff"/>
<line x1="43.1" y1="207.20" x2="68.6" y2="207.20" stroke="#4f86cc" stroke-width="2.2"/>
<line x1="55.85" y1="201.50" x2="55.85" y2="212.90" stroke="#6495d2" stroke-width="5"/>
<circle cx="55.85" cy="207.20" r="2.9" fill="#6f9cd5" stroke="#4f86cc" stroke-width="1.2"/>
<text class="lg" transform="translate(70.00,211.20) scale(1,1.1)" text-anchor="start">cc(McA,EIT/195 Å)</text>
<line x1="43.1" y1="219.15" x2="68.6" y2="219.15" stroke="#d0683a" stroke-width="2.2"/>
<line x1="55.85" y1="213.45" x2="55.85" y2="224.85" stroke="#d67a52" stroke-width="5"/>
<circle cx="55.85" cy="219.15" r="2.9" fill="#d8835d" stroke="#d0683a" stroke-width="1.2"/>
<text class="lg" transform="translate(70.00,223.15) scale(1,1.1)" text-anchor="start">cc(McA,EIT/171 Å)</text>
<line x1="43.1" y1="231.10" x2="68.6" y2="231.10" stroke="#e4b246" stroke-width="2.2"/>
<line x1="55.85" y1="225.40" x2="55.85" y2="236.80" stroke="#e7bb5c" stroke-width="5"/>
<circle cx="55.85" cy="231.10" r="2.9" fill="#e9c067" stroke="#e4b246" stroke-width="1.2"/>
<text class="lg" transform="translate(70.00,235.10) scale(1,1.1)" text-anchor="start">cc(McA,EIT/284 Å)</text>
<line x1="43.1" y1="243.05" x2="68.6" y2="243.05" stroke="#7d41a0" stroke-width="2.2"/>
<line x1="55.85" y1="237.35" x2="55.85" y2="248.75" stroke="#8d58ab" stroke-width="5"/>
<circle cx="55.85" cy="243.05" r="2.9" fill="#9463b1" stroke="#7d41a0" stroke-width="1.2"/>
<text class="lg" transform="translate(70.00,247.05) scale(1,1.1)" text-anchor="start">cc(McA,EIT/304 Å)</text>
<rect x="418" y="18" width="1" height="248" fill="#fafafa"/>
<rect x="419" y="18" width="1" height="248" fill="#f0f0f0"/>
<rect x="451" y="18" width="1" height="248" fill="#fafafa"/>
<rect x="452" y="18" width="1" height="248" fill="#f5f5f5"/>
<rect x="483" y="18" width="1" height="248" fill="#fafafa"/>
<rect x="484" y="18" width="1" height="248" fill="#f5f5f5"/>
<rect x="516" y="18" width="1" height="248" fill="#fafafa"/>
<rect x="517" y="18" width="1" height="248" fill="#f5f5f5"/>
<rect x="548" y="18" width="1" height="248" fill="#fafafa"/>
<rect x="549" y="18" width="1" height="248" fill="#f5f5f5"/>
<rect x="550" y="18" width="1" height="248" fill="#f5f5f5"/>
<rect x="581" y="18" width="1" height="248" fill="#fafafa"/>
<rect x="582" y="18" width="1" height="248" fill="#f5f5f5"/>
<rect x="613" y="18" width="1" height="248" fill="#fafafa"/>
<rect x="614" y="18" width="1" height="248" fill="#f2f2f2"/>
<rect x="615" y="18" width="1" height="248" fill="#f0f0f0"/>
<rect x="646" y="18" width="1" height="248" fill="#fafafa"/>
<rect x="647" y="18" width="1" height="248" fill="#f5f5f5"/>
<rect x="388" y="48" width="291" height="1" fill="#d7d7d7"/>
<rect x="388" y="79" width="291" height="1" fill="#fafafa"/>
<rect x="388" y="80" width="291" height="1" fill="#f5f5f5"/>
<rect x="388" y="110" width="291" height="1" fill="#fafafa"/>
<rect x="388" y="111" width="291" height="1" fill="#f5f5f5"/>
<rect x="388" y="141" width="291" height="1" fill="#fafafa"/>
<rect x="388" y="142" width="291" height="1" fill="#f5f5f5"/>
<rect x="388" y="172" width="291" height="1" fill="#fafafa"/>
<rect x="388" y="173" width="291" height="1" fill="#f5f5f5"/>
<rect x="388" y="174" width="291" height="1" fill="#f0f0f0"/>
<rect x="388" y="203" width="291" height="1" fill="#fafafa"/>
<rect x="388" y="204" width="291" height="1" fill="#fafafa"/>
<rect x="388" y="205" width="291" height="1" fill="#f0f0f0"/>
<rect x="388" y="235" width="291" height="1" fill="#fafafa"/>
<rect x="388" y="236" width="291" height="1" fill="#fafafa"/>
<path d="M402.72 35.50V78.06M399.12 36.00h7.2M399.12 77.56h7.2" stroke="#b9cfeb" stroke-width="3.1" fill="none"/>
<path d="M419.00 35.19V69.94M415.40 35.69h7.2M415.40 69.44h7.2" stroke="#b9cfeb" stroke-width="3.1" fill="none"/>
<path d="M435.29 39.88V80.25M431.69 40.38h7.2M431.69 79.75h7.2" stroke="#b9cfeb" stroke-width="3.1" fill="none"/>
<path d="M451.57 41.75V82.13M447.97 42.25h7.2M447.97 81.63h7.2" stroke="#b9cfeb" stroke-width="3.1" fill="none"/>
<path d="M467.86 43.00V81.50M464.26 43.50h7.2M464.26 81.00h7.2" stroke="#b9cfeb" stroke-width="3.1" fill="none"/>
<path d="M484.14 47.69V89.31M480.54 48.19h7.2M480.54 88.81h7.2" stroke="#b9cfeb" stroke-width="3.1" fill="none"/>
<path d="M500.43 49.56V94.94M496.83 50.06h7.2M496.83 94.44h7.2" stroke="#b9cfeb" stroke-width="3.1" fill="none"/>
<path d="M516.71 48.62V91.50M513.11 49.12h7.2M513.11 91.00h7.2" stroke="#b9cfeb" stroke-width="3.1" fill="none"/>
<path d="M533.00 47.22V91.34M529.40 47.72h7.2M529.40 90.84h7.2" stroke="#b9cfeb" stroke-width="3.1" fill="none"/>
<path d="M549.29 48.00V92.75M545.69 48.50h7.2M545.69 92.25h7.2" stroke="#b9cfeb" stroke-width="3.1" fill="none"/>
<path d="M565.57 50.66V95.41M561.97 51.16h7.2M561.97 94.91h7.2" stroke="#b9cfeb" stroke-width="3.1" fill="none"/>
<path d="M581.86 52.84V98.84M578.26 53.34h7.2M578.26 98.34h7.2" stroke="#b9cfeb" stroke-width="3.1" fill="none"/>
<path d="M598.14 57.84V103.22M594.54 58.34h7.2M594.54 102.72h7.2" stroke="#b9cfeb" stroke-width="3.1" fill="none"/>
<path d="M614.43 61.28V109.16M610.83 61.78h7.2M610.83 108.66h7.2" stroke="#b9cfeb" stroke-width="3.1" fill="none"/>
<path d="M630.71 64.88V117.75M627.11 65.38h7.2M627.11 117.25h7.2" stroke="#b9cfeb" stroke-width="3.1" fill="none"/>
<path d="M647.00 66.75V124.00M643.40 67.25h7.2M643.40 123.50h7.2" stroke="#b9cfeb" stroke-width="3.1" fill="none"/>
<path d="M663.28 68.47V125.72M659.68 68.97h7.2M659.68 125.22h7.2" stroke="#b9cfeb" stroke-width="3.1" fill="none"/>
<path d="M679.57 68.47V125.72M675.97 68.97h7.2M675.97 125.22h7.2" stroke="#b9cfeb" stroke-width="3.1" fill="none"/>
<polyline points="402.72,56.78 419.00,52.56 435.29,60.06 451.57,61.94 467.86,62.25 484.14,68.50 500.43,72.25 516.71,70.06 533.00,69.28 549.29,70.38 565.57,73.03 581.86,75.84 598.14,80.53 614.43,85.22 630.71,91.31 647.00,95.38 663.28,97.09 679.57,97.09" fill="none" stroke="#b9cfeb" stroke-width="3.2" stroke-linejoin="round"/>
<circle cx="402.72" cy="56.78" r="3.8" fill="#b9cfeb"/>
<circle cx="419.00" cy="52.56" r="3.8" fill="#b9cfeb"/>
<circle cx="435.29" cy="60.06" r="3.8" fill="#b9cfeb"/>
<circle cx="451.57" cy="61.94" r="3.8" fill="#b9cfeb"/>
<circle cx="467.86" cy="62.25" r="3.8" fill="#b9cfeb"/>
<circle cx="484.14" cy="68.50" r="3.8" fill="#b9cfeb"/>
<circle cx="500.43" cy="72.25" r="3.8" fill="#b9cfeb"/>
<circle cx="516.71" cy="70.06" r="3.8" fill="#b9cfeb"/>
<circle cx="533.00" cy="69.28" r="3.8" fill="#b9cfeb"/>
<circle cx="549.29" cy="70.38" r="3.8" fill="#b9cfeb"/>
<circle cx="565.57" cy="73.03" r="3.8" fill="#b9cfeb"/>
<circle cx="581.86" cy="75.84" r="3.8" fill="#b9cfeb"/>
<circle cx="598.14" cy="80.53" r="3.8" fill="#b9cfeb"/>
<circle cx="614.43" cy="85.22" r="3.8" fill="#b9cfeb"/>
<circle cx="630.71" cy="91.31" r="3.8" fill="#b9cfeb"/>
<circle cx="647.00" cy="95.38" r="3.8" fill="#b9cfeb"/>
<circle cx="663.28" cy="97.09" r="3.8" fill="#b9cfeb"/>
<circle cx="679.57" cy="97.09" r="3.8" fill="#b9cfeb"/>
<path d="M402.72 105.34V177.59M399.12 105.84h7.2M399.12 177.09h7.2" stroke="#ecc3b0" stroke-width="3.1" fill="none"/>
<path d="M419.00 104.25V174.00M415.40 104.75h7.2M415.40 173.50h7.2" stroke="#ecc3b0" stroke-width="3.1" fill="none"/>
<path d="M435.29 102.69V175.56M431.69 103.19h7.2M431.69 175.06h7.2" stroke="#ecc3b0" stroke-width="3.1" fill="none"/>
<path d="M451.57 105.50V179.62M447.97 106.00h7.2M447.97 179.12h7.2" stroke="#ecc3b0" stroke-width="3.1" fill="none"/>
<path d="M467.86 105.81V178.69M464.26 106.31h7.2M464.26 178.19h7.2" stroke="#ecc3b0" stroke-width="3.1" fill="none"/>
<path d="M484.14 102.38V175.25M480.54 102.88h7.2M480.54 174.75h7.2" stroke="#ecc3b0" stroke-width="3.1" fill="none"/>
<path d="M500.43 97.22V170.09M496.83 97.72h7.2M496.83 169.59h7.2" stroke="#ecc3b0" stroke-width="3.1" fill="none"/>
<path d="M516.71 97.53V164.16M513.11 98.03h7.2M513.11 163.66h7.2" stroke="#ecc3b0" stroke-width="3.1" fill="none"/>
<path d="M533.00 92.84V161.66M529.40 93.34h7.2M529.40 161.16h7.2" stroke="#ecc3b0" stroke-width="3.1" fill="none"/>
<path d="M549.29 89.56V158.69M545.69 90.06h7.2M545.69 158.19h7.2" stroke="#ecc3b0" stroke-width="3.1" fill="none"/>
<path d="M565.57 88.31V156.81M561.97 88.81h7.2M561.97 156.31h7.2" stroke="#ecc3b0" stroke-width="3.1" fill="none"/>
<path d="M581.86 90.19V156.81M578.26 90.69h7.2M578.26 156.31h7.2" stroke="#ecc3b0" stroke-width="3.1" fill="none"/>
<path d="M598.14 90.97V160.72M594.54 91.47h7.2M594.54 160.22h7.2" stroke="#ecc3b0" stroke-width="3.1" fill="none"/>
<path d="M614.43 93.31V163.06M610.83 93.81h7.2M610.83 162.56h7.2" stroke="#ecc3b0" stroke-width="3.1" fill="none"/>
<path d="M630.71 93.78V166.66M627.11 94.28h7.2M627.11 166.16h7.2" stroke="#ecc3b0" stroke-width="3.1" fill="none"/>
<path d="M647.00 96.75V166.50M643.40 97.25h7.2M643.40 166.00h7.2" stroke="#ecc3b0" stroke-width="3.1" fill="none"/>
<path d="M663.28 96.75V166.50M659.68 97.25h7.2M659.68 166.00h7.2" stroke="#ecc3b0" stroke-width="3.1" fill="none"/>
<path d="M679.57 96.75V166.50M675.97 97.25h7.2M675.97 166.00h7.2" stroke="#ecc3b0" stroke-width="3.1" fill="none"/>
<polyline points="402.72,141.47 419.00,139.12 435.29,139.12 451.57,142.56 467.86,142.25 484.14,138.81 500.43,133.66 516.71,130.84 533.00,127.25 549.29,124.12 565.57,122.56 581.86,123.50 598.14,125.84 614.43,128.19 630.71,130.22 647.00,131.62 663.28,131.62 679.57,131.62" fill="none" stroke="#ecc3b0" stroke-width="3.2" stroke-linejoin="round"/>
<circle cx="402.72" cy="141.47" r="3.8" fill="#ecc3b0"/>
<circle cx="419.00" cy="139.12" r="3.8" fill="#ecc3b0"/>
<circle cx="435.29" cy="139.12" r="3.8" fill="#ecc3b0"/>
<circle cx="451.57" cy="142.56" r="3.8" fill="#ecc3b0"/>
<circle cx="467.86" cy="142.25" r="3.8" fill="#ecc3b0"/>
<circle cx="484.14" cy="138.81" r="3.8" fill="#ecc3b0"/>
<circle cx="500.43" cy="133.66" r="3.8" fill="#ecc3b0"/>
<circle cx="516.71" cy="130.84" r="3.8" fill="#ecc3b0"/>
<circle cx="533.00" cy="127.25" r="3.8" fill="#ecc3b0"/>
<circle cx="549.29" cy="124.12" r="3.8" fill="#ecc3b0"/>
<circle cx="565.57" cy="122.56" r="3.8" fill="#ecc3b0"/>
<circle cx="581.86" cy="123.50" r="3.8" fill="#ecc3b0"/>
<circle cx="598.14" cy="125.84" r="3.8" fill="#ecc3b0"/>
<circle cx="614.43" cy="128.19" r="3.8" fill="#ecc3b0"/>
<circle cx="630.71" cy="130.22" r="3.8" fill="#ecc3b0"/>
<circle cx="647.00" cy="131.62" r="3.8" fill="#ecc3b0"/>
<circle cx="663.28" cy="131.62" r="3.8" fill="#ecc3b0"/>
<circle cx="679.57" cy="131.62" r="3.8" fill="#ecc3b0"/>
<path d="M402.72 90.66V171.03M399.12 91.16h7.2M399.12 170.53h7.2" stroke="#f4e0b5" stroke-width="3.1" fill="none"/>
<path d="M419.00 80.34V149.78M415.40 80.84h7.2M415.40 149.28h7.2" stroke="#f4e0b5" stroke-width="3.1" fill="none"/>
<path d="M435.29 85.03V156.03M431.69 85.53h7.2M431.69 155.53h7.2" stroke="#f4e0b5" stroke-width="3.1" fill="none"/>
<path d="M451.57 88.62V161.50M447.97 89.12h7.2M447.97 161.00h7.2" stroke="#f4e0b5" stroke-width="3.1" fill="none"/>
<path d="M467.86 82.84V149.47M464.26 83.34h7.2M464.26 148.97h7.2" stroke="#f4e0b5" stroke-width="3.1" fill="none"/>
<path d="M484.14 79.56V146.19M480.54 80.06h7.2M480.54 145.69h7.2" stroke="#f4e0b5" stroke-width="3.1" fill="none"/>
<path d="M500.43 74.25V140.88M496.83 74.75h7.2M496.83 140.38h7.2" stroke="#f4e0b5" stroke-width="3.1" fill="none"/>
<path d="M516.71 69.09V126.34M513.11 69.59h7.2M513.11 125.84h7.2" stroke="#f4e0b5" stroke-width="3.1" fill="none"/>
<path d="M533.00 67.53V124.16M529.40 68.03h7.2M529.40 123.66h7.2" stroke="#f4e0b5" stroke-width="3.1" fill="none"/>
<path d="M549.29 66.75V122.44M545.69 67.25h7.2M545.69 121.94h7.2" stroke="#f4e0b5" stroke-width="3.1" fill="none"/>
<path d="M565.57 67.53V131.03M561.97 68.03h7.2M561.97 130.53h7.2" stroke="#f4e0b5" stroke-width="3.1" fill="none"/>
<path d="M581.86 75.03V138.53M578.26 75.53h7.2M578.26 138.03h7.2" stroke="#f4e0b5" stroke-width="3.1" fill="none"/>
<path d="M598.14 81.12V144.62M594.54 81.62h7.2M594.54 144.12h7.2" stroke="#f4e0b5" stroke-width="3.1" fill="none"/>
<path d="M614.43 84.56V148.06M610.83 85.06h7.2M610.83 147.56h7.2" stroke="#f4e0b5" stroke-width="3.1" fill="none"/>
<path d="M630.71 87.06V152.44M627.11 87.56h7.2M627.11 151.94h7.2" stroke="#f4e0b5" stroke-width="3.1" fill="none"/>
<path d="M647.00 89.41V152.91M643.40 89.91h7.2M643.40 152.41h7.2" stroke="#f4e0b5" stroke-width="3.1" fill="none"/>
<path d="M663.28 89.41V152.91M659.68 89.91h7.2M659.68 152.41h7.2" stroke="#f4e0b5" stroke-width="3.1" fill="none"/>
<path d="M679.57 89.41V152.91M675.97 89.91h7.2M675.97 152.41h7.2" stroke="#f4e0b5" stroke-width="3.1" fill="none"/>
<polyline points="402.72,130.84 419.00,115.06 435.29,120.53 451.57,125.06 467.86,116.16 484.14,112.88 500.43,107.56 516.71,97.72 533.00,95.84 549.29,94.59 565.57,99.28 581.86,106.78 598.14,112.88 614.43,116.31 630.71,119.75 647.00,121.16 663.28,121.16 679.57,121.16" fill="none" stroke="#f4e0b5" stroke-width="3.2" stroke-linejoin="round"/>
<circle cx="402.72" cy="130.84" r="3.8" fill="#f4e0b5"/>
<circle cx="419.00" cy="115.06" r="3.8" fill="#f4e0b5"/>
<circle cx="435.29" cy="120.53" r="3.8" fill="#f4e0b5"/>
<circle cx="451.57" cy="125.06" r="3.8" fill="#f4e0b5"/>
<circle cx="467.86" cy="116.16" r="3.8" fill="#f4e0b5"/>
<circle cx="484.14" cy="112.88" r="3.8" fill="#f4e0b5"/>
<circle cx="500.43" cy="107.56" r="3.8" fill="#f4e0b5"/>
<circle cx="516.71" cy="97.72" r="3.8" fill="#f4e0b5"/>
<circle cx="533.00" cy="95.84" r="3.8" fill="#f4e0b5"/>
<circle cx="549.29" cy="94.59" r="3.8" fill="#f4e0b5"/>
<circle cx="565.57" cy="99.28" r="3.8" fill="#f4e0b5"/>
<circle cx="581.86" cy="106.78" r="3.8" fill="#f4e0b5"/>
<circle cx="598.14" cy="112.88" r="3.8" fill="#f4e0b5"/>
<circle cx="614.43" cy="116.31" r="3.8" fill="#f4e0b5"/>
<circle cx="630.71" cy="119.75" r="3.8" fill="#f4e0b5"/>
<circle cx="647.00" cy="121.16" r="3.8" fill="#f4e0b5"/>
<circle cx="663.28" cy="121.16" r="3.8" fill="#f4e0b5"/>
<circle cx="679.57" cy="121.16" r="3.8" fill="#f4e0b5"/>
<path d="M402.72 115.34V199.16M399.12 115.84h7.2M399.12 198.66h7.2" stroke="#cbb3d9" stroke-width="3.1" fill="none"/>
<path d="M419.00 98.47V171.97M415.40 98.97h7.2M415.40 171.47h7.2" stroke="#cbb3d9" stroke-width="3.1" fill="none"/>
<path d="M435.29 80.97V146.97M431.69 81.47h7.2M431.69 146.47h7.2" stroke="#cbb3d9" stroke-width="3.1" fill="none"/>
<path d="M451.57 78.47V143.22M447.97 78.97h7.2M447.97 142.72h7.2" stroke="#cbb3d9" stroke-width="3.1" fill="none"/>
<path d="M467.86 81.44V146.50M464.26 81.94h7.2M464.26 146.00h7.2" stroke="#cbb3d9" stroke-width="3.1" fill="none"/>
<path d="M484.14 83.31V146.81M480.54 83.81h7.2M480.54 146.31h7.2" stroke="#cbb3d9" stroke-width="3.1" fill="none"/>
<path d="M500.43 75.66V141.66M496.83 76.16h7.2M496.83 141.16h7.2" stroke="#cbb3d9" stroke-width="3.1" fill="none"/>
<path d="M516.71 68.70V125.95M513.11 69.20h7.2M513.11 125.45h7.2" stroke="#cbb3d9" stroke-width="3.1" fill="none"/>
<path d="M533.00 65.42V122.67M529.40 65.92h7.2M529.40 122.17h7.2" stroke="#cbb3d9" stroke-width="3.1" fill="none"/>
<path d="M549.29 63.63V119.31M545.69 64.13h7.2M545.69 118.81h7.2" stroke="#cbb3d9" stroke-width="3.1" fill="none"/>
<path d="M565.57 66.36V123.61M561.97 66.86h7.2M561.97 123.11h7.2" stroke="#cbb3d9" stroke-width="3.1" fill="none"/>
<path d="M581.86 71.44V132.44M578.26 71.94h7.2M578.26 131.94h7.2" stroke="#cbb3d9" stroke-width="3.1" fill="none"/>
<path d="M598.14 88.47V157.59M594.54 88.97h7.2M594.54 157.09h7.2" stroke="#cbb3d9" stroke-width="3.1" fill="none"/>
<path d="M614.43 118.47V194.47M610.83 118.97h7.2M610.83 193.97h7.2" stroke="#cbb3d9" stroke-width="3.1" fill="none"/>
<path d="M630.71 143.00V217.75M627.11 143.50h7.2M627.11 217.25h7.2" stroke="#cbb3d9" stroke-width="3.1" fill="none"/>
<path d="M647.00 150.97V225.72M643.40 151.47h7.2M643.40 225.22h7.2" stroke="#cbb3d9" stroke-width="3.1" fill="none"/>
<path d="M663.28 150.97V225.72M659.68 151.47h7.2M659.68 225.22h7.2" stroke="#cbb3d9" stroke-width="3.1" fill="none"/>
<path d="M679.57 150.97V225.72M675.97 151.47h7.2M675.97 225.22h7.2" stroke="#cbb3d9" stroke-width="3.1" fill="none"/>
<polyline points="402.72,157.25 419.00,135.22 435.29,113.97 451.57,110.84 467.86,113.97 484.14,115.06 500.43,108.66 516.71,97.33 533.00,94.05 549.29,91.47 565.57,94.98 581.86,101.94 598.14,123.03 614.43,156.47 630.71,180.38 647.00,188.34 663.28,188.34 679.57,188.34" fill="none" stroke="#cbb3d9" stroke-width="3.2" stroke-linejoin="round"/>
<circle cx="402.72" cy="157.25" r="3.8" fill="#cbb3d9"/>
<circle cx="419.00" cy="135.22" r="3.8" fill="#cbb3d9"/>
<circle cx="435.29" cy="113.97" r="3.8" fill="#cbb3d9"/>
<circle cx="451.57" cy="110.84" r="3.8" fill="#cbb3d9"/>
<circle cx="467.86" cy="113.97" r="3.8" fill="#cbb3d9"/>
<circle cx="484.14" cy="115.06" r="3.8" fill="#cbb3d9"/>
<circle cx="500.43" cy="108.66" r="3.8" fill="#cbb3d9"/>
<circle cx="516.71" cy="97.33" r="3.8" fill="#cbb3d9"/>
<circle cx="533.00" cy="94.05" r="3.8" fill="#cbb3d9"/>
<circle cx="549.29" cy="91.47" r="3.8" fill="#cbb3d9"/>
<circle cx="565.57" cy="94.98" r="3.8" fill="#cbb3d9"/>
<circle cx="581.86" cy="101.94" r="3.8" fill="#cbb3d9"/>
<circle cx="598.14" cy="123.03" r="3.8" fill="#cbb3d9"/>
<circle cx="614.43" cy="156.47" r="3.8" fill="#cbb3d9"/>
<circle cx="630.71" cy="180.38" r="3.8" fill="#cbb3d9"/>
<circle cx="647.00" cy="188.34" r="3.8" fill="#cbb3d9"/>
<circle cx="663.28" cy="188.34" r="3.8" fill="#cbb3d9"/>
<circle cx="679.57" cy="188.34" r="3.8" fill="#cbb3d9"/>
<path d="M402.72 36.00V77.56M399.62 36.00h6.2M399.62 77.56h6.2" stroke="#4f86cc" stroke-width="2.1" fill="none"/>
<path d="M419.00 35.69V69.44M415.90 35.69h6.2M415.90 69.44h6.2" stroke="#4f86cc" stroke-width="2.1" fill="none"/>
<path d="M435.29 40.38V79.75M432.19 40.38h6.2M432.19 79.75h6.2" stroke="#4f86cc" stroke-width="2.1" fill="none"/>
<path d="M451.57 42.25V81.63M448.47 42.25h6.2M448.47 81.63h6.2" stroke="#4f86cc" stroke-width="2.1" fill="none"/>
<path d="M467.86 43.50V81.00M464.76 43.50h6.2M464.76 81.00h6.2" stroke="#4f86cc" stroke-width="2.1" fill="none"/>
<path d="M484.14 48.19V88.81M481.04 48.19h6.2M481.04 88.81h6.2" stroke="#4f86cc" stroke-width="2.1" fill="none"/>
<path d="M500.43 50.06V94.44M497.33 50.06h6.2M497.33 94.44h6.2" stroke="#4f86cc" stroke-width="2.1" fill="none"/>
<path d="M516.71 49.12V91.00M513.61 49.12h6.2M513.61 91.00h6.2" stroke="#4f86cc" stroke-width="2.1" fill="none"/>
<path d="M533.00 47.72V90.84M529.90 47.72h6.2M529.90 90.84h6.2" stroke="#4f86cc" stroke-width="2.1" fill="none"/>
<path d="M549.29 48.50V92.25M546.19 48.50h6.2M546.19 92.25h6.2" stroke="#4f86cc" stroke-width="2.1" fill="none"/>
<path d="M565.57 51.16V94.91M562.47 51.16h6.2M562.47 94.91h6.2" stroke="#4f86cc" stroke-width="2.1" fill="none"/>
<path d="M581.86 53.34V98.34M578.76 53.34h6.2M578.76 98.34h6.2" stroke="#4f86cc" stroke-width="2.1" fill="none"/>
<path d="M598.14 58.34V102.72M595.04 58.34h6.2M595.04 102.72h6.2" stroke="#4f86cc" stroke-width="2.1" fill="none"/>
<path d="M614.43 61.78V108.66M611.33 61.78h6.2M611.33 108.66h6.2" stroke="#4f86cc" stroke-width="2.1" fill="none"/>
<path d="M630.71 65.38V117.25M627.61 65.38h6.2M627.61 117.25h6.2" stroke="#4f86cc" stroke-width="2.1" fill="none"/>
<path d="M647.00 67.25V123.50M643.90 67.25h6.2M643.90 123.50h6.2" stroke="#4f86cc" stroke-width="2.1" fill="none"/>
<path d="M663.28 68.97V125.22M660.18 68.97h6.2M660.18 125.22h6.2" stroke="#4f86cc" stroke-width="2.1" fill="none"/>
<path d="M679.57 68.97V125.22M676.47 68.97h6.2M676.47 125.22h6.2" stroke="#4f86cc" stroke-width="2.1" fill="none"/>
<polyline points="402.72,56.78 419.00,52.56 435.29,60.06 451.57,61.94 467.86,62.25 484.14,68.50 500.43,72.25 516.71,70.06 533.00,69.28 549.29,70.38 565.57,73.03 581.86,75.84 598.14,80.53 614.43,85.22 630.71,91.31 647.00,95.38 663.28,97.09 679.57,97.09" fill="none" stroke="#4f86cc" stroke-width="2.2" stroke-linejoin="round"/>
<circle cx="402.72" cy="56.78" r="2.70" fill="#6f9cd5" stroke="#4f86cc" stroke-width="1.2"/>
<circle cx="419.00" cy="52.56" r="2.70" fill="#6f9cd5" stroke="#4f86cc" stroke-width="1.2"/>
<circle cx="435.29" cy="60.06" r="2.70" fill="#6f9cd5" stroke="#4f86cc" stroke-width="1.2"/>
<circle cx="451.57" cy="61.94" r="2.70" fill="#6f9cd5" stroke="#4f86cc" stroke-width="1.2"/>
<circle cx="467.86" cy="62.25" r="2.70" fill="#6f9cd5" stroke="#4f86cc" stroke-width="1.2"/>
<circle cx="484.14" cy="68.50" r="2.70" fill="#6f9cd5" stroke="#4f86cc" stroke-width="1.2"/>
<circle cx="500.43" cy="72.25" r="2.70" fill="#6f9cd5" stroke="#4f86cc" stroke-width="1.2"/>
<circle cx="516.71" cy="70.06" r="2.70" fill="#6f9cd5" stroke="#4f86cc" stroke-width="1.2"/>
<circle cx="533.00" cy="69.28" r="2.70" fill="#6f9cd5" stroke="#4f86cc" stroke-width="1.2"/>
<circle cx="549.29" cy="70.38" r="2.70" fill="#6f9cd5" stroke="#4f86cc" stroke-width="1.2"/>
<circle cx="565.57" cy="73.03" r="2.70" fill="#6f9cd5" stroke="#4f86cc" stroke-width="1.2"/>
<circle cx="581.86" cy="75.84" r="2.70" fill="#6f9cd5" stroke="#4f86cc" stroke-width="1.2"/>
<circle cx="598.14" cy="80.53" r="2.70" fill="#6f9cd5" stroke="#4f86cc" stroke-width="1.2"/>
<circle cx="614.43" cy="85.22" r="2.70" fill="#6f9cd5" stroke="#4f86cc" stroke-width="1.2"/>
<circle cx="630.71" cy="91.31" r="2.70" fill="#6f9cd5" stroke="#4f86cc" stroke-width="1.2"/>
<circle cx="647.00" cy="95.38" r="2.70" fill="#6f9cd5" stroke="#4f86cc" stroke-width="1.2"/>
<circle cx="663.28" cy="97.09" r="2.70" fill="#6f9cd5" stroke="#4f86cc" stroke-width="1.2"/>
<circle cx="679.57" cy="97.09" r="2.70" fill="#6f9cd5" stroke="#4f86cc" stroke-width="1.2"/>
<path d="M402.72 105.84V177.09M399.62 105.84h6.2M399.62 177.09h6.2" stroke="#d0683a" stroke-width="2.1" fill="none"/>
<path d="M419.00 104.75V173.50M415.90 104.75h6.2M415.90 173.50h6.2" stroke="#d0683a" stroke-width="2.1" fill="none"/>
<path d="M435.29 103.19V175.06M432.19 103.19h6.2M432.19 175.06h6.2" stroke="#d0683a" stroke-width="2.1" fill="none"/>
<path d="M451.57 106.00V179.12M448.47 106.00h6.2M448.47 179.12h6.2" stroke="#d0683a" stroke-width="2.1" fill="none"/>
<path d="M467.86 106.31V178.19M464.76 106.31h6.2M464.76 178.19h6.2" stroke="#d0683a" stroke-width="2.1" fill="none"/>
<path d="M484.14 102.88V174.75M481.04 102.88h6.2M481.04 174.75h6.2" stroke="#d0683a" stroke-width="2.1" fill="none"/>
<path d="M500.43 97.72V169.59M497.33 97.72h6.2M497.33 169.59h6.2" stroke="#d0683a" stroke-width="2.1" fill="none"/>
<path d="M516.71 98.03V163.66M513.61 98.03h6.2M513.61 163.66h6.2" stroke="#d0683a" stroke-width="2.1" fill="none"/>
<path d="M533.00 93.34V161.16M529.90 93.34h6.2M529.90 161.16h6.2" stroke="#d0683a" stroke-width="2.1" fill="none"/>
<path d="M549.29 90.06V158.19M546.19 90.06h6.2M546.19 158.19h6.2" stroke="#d0683a" stroke-width="2.1" fill="none"/>
<path d="M565.57 88.81V156.31M562.47 88.81h6.2M562.47 156.31h6.2" stroke="#d0683a" stroke-width="2.1" fill="none"/>
<path d="M581.86 90.69V156.31M578.76 90.69h6.2M578.76 156.31h6.2" stroke="#d0683a" stroke-width="2.1" fill="none"/>
<path d="M598.14 91.47V160.22M595.04 91.47h6.2M595.04 160.22h6.2" stroke="#d0683a" stroke-width="2.1" fill="none"/>
<path d="M614.43 93.81V162.56M611.33 93.81h6.2M611.33 162.56h6.2" stroke="#d0683a" stroke-width="2.1" fill="none"/>
<path d="M630.71 94.28V166.16M627.61 94.28h6.2M627.61 166.16h6.2" stroke="#d0683a" stroke-width="2.1" fill="none"/>
<path d="M647.00 97.25V166.00M643.90 97.25h6.2M643.90 166.00h6.2" stroke="#d0683a" stroke-width="2.1" fill="none"/>
<path d="M663.28 97.25V166.00M660.18 97.25h6.2M660.18 166.00h6.2" stroke="#d0683a" stroke-width="2.1" fill="none"/>
<path d="M679.57 97.25V166.00M676.47 97.25h6.2M676.47 166.00h6.2" stroke="#d0683a" stroke-width="2.1" fill="none"/>
<polyline points="402.72,141.47 419.00,139.12 435.29,139.12 451.57,142.56 467.86,142.25 484.14,138.81 500.43,133.66 516.71,130.84 533.00,127.25 549.29,124.12 565.57,122.56 581.86,123.50 598.14,125.84 614.43,128.19 630.71,130.22 647.00,131.62 663.28,131.62 679.57,131.62" fill="none" stroke="#d0683a" stroke-width="2.2" stroke-linejoin="round"/>
<circle cx="402.72" cy="141.47" r="2.70" fill="#d8835d" stroke="#d0683a" stroke-width="1.2"/>
<circle cx="419.00" cy="139.12" r="2.70" fill="#d8835d" stroke="#d0683a" stroke-width="1.2"/>
<circle cx="435.29" cy="139.12" r="2.70" fill="#d8835d" stroke="#d0683a" stroke-width="1.2"/>
<circle cx="451.57" cy="142.56" r="2.70" fill="#d8835d" stroke="#d0683a" stroke-width="1.2"/>
<circle cx="467.86" cy="142.25" r="2.70" fill="#d8835d" stroke="#d0683a" stroke-width="1.2"/>
<circle cx="484.14" cy="138.81" r="2.70" fill="#d8835d" stroke="#d0683a" stroke-width="1.2"/>
<circle cx="500.43" cy="133.66" r="2.70" fill="#d8835d" stroke="#d0683a" stroke-width="1.2"/>
<circle cx="516.71" cy="130.84" r="2.70" fill="#d8835d" stroke="#d0683a" stroke-width="1.2"/>
<circle cx="533.00" cy="127.25" r="2.70" fill="#d8835d" stroke="#d0683a" stroke-width="1.2"/>
<circle cx="549.29" cy="124.12" r="2.70" fill="#d8835d" stroke="#d0683a" stroke-width="1.2"/>
<circle cx="565.57" cy="122.56" r="2.70" fill="#d8835d" stroke="#d0683a" stroke-width="1.2"/>
<circle cx="581.86" cy="123.50" r="2.70" fill="#d8835d" stroke="#d0683a" stroke-width="1.2"/>
<circle cx="598.14" cy="125.84" r="2.70" fill="#d8835d" stroke="#d0683a" stroke-width="1.2"/>
<circle cx="614.43" cy="128.19" r="2.70" fill="#d8835d" stroke="#d0683a" stroke-width="1.2"/>
<circle cx="630.71" cy="130.22" r="2.70" fill="#d8835d" stroke="#d0683a" stroke-width="1.2"/>
<circle cx="647.00" cy="131.62" r="2.70" fill="#d8835d" stroke="#d0683a" stroke-width="1.2"/>
<circle cx="663.28" cy="131.62" r="2.70" fill="#d8835d" stroke="#d0683a" stroke-width="1.2"/>
<circle cx="679.57" cy="131.62" r="2.70" fill="#d8835d" stroke="#d0683a" stroke-width="1.2"/>
<path d="M402.72 91.16V170.53M399.62 91.16h6.2M399.62 170.53h6.2" stroke="#e4b246" stroke-width="2.1" fill="none"/>
<path d="M419.00 80.84V149.28M415.90 80.84h6.2M415.90 149.28h6.2" stroke="#e4b246" stroke-width="2.1" fill="none"/>
<path d="M435.29 85.53V155.53M432.19 85.53h6.2M432.19 155.53h6.2" stroke="#e4b246" stroke-width="2.1" fill="none"/>
<path d="M451.57 89.12V161.00M448.47 89.12h6.2M448.47 161.00h6.2" stroke="#e4b246" stroke-width="2.1" fill="none"/>
<path d="M467.86 83.34V148.97M464.76 83.34h6.2M464.76 148.97h6.2" stroke="#e4b246" stroke-width="2.1" fill="none"/>
<path d="M484.14 80.06V145.69M481.04 80.06h6.2M481.04 145.69h6.2" stroke="#e4b246" stroke-width="2.1" fill="none"/>
<path d="M500.43 74.75V140.38M497.33 74.75h6.2M497.33 140.38h6.2" stroke="#e4b246" stroke-width="2.1" fill="none"/>
<path d="M516.71 69.59V125.84M513.61 69.59h6.2M513.61 125.84h6.2" stroke="#e4b246" stroke-width="2.1" fill="none"/>
<path d="M533.00 68.03V123.66M529.90 68.03h6.2M529.90 123.66h6.2" stroke="#e4b246" stroke-width="2.1" fill="none"/>
<path d="M549.29 67.25V121.94M546.19 67.25h6.2M546.19 121.94h6.2" stroke="#e4b246" stroke-width="2.1" fill="none"/>
<path d="M565.57 68.03V130.53M562.47 68.03h6.2M562.47 130.53h6.2" stroke="#e4b246" stroke-width="2.1" fill="none"/>
<path d="M581.86 75.53V138.03M578.76 75.53h6.2M578.76 138.03h6.2" stroke="#e4b246" stroke-width="2.1" fill="none"/>
<path d="M598.14 81.62V144.12M595.04 81.62h6.2M595.04 144.12h6.2" stroke="#e4b246" stroke-width="2.1" fill="none"/>
<path d="M614.43 85.06V147.56M611.33 85.06h6.2M611.33 147.56h6.2" stroke="#e4b246" stroke-width="2.1" fill="none"/>
<path d="M630.71 87.56V151.94M627.61 87.56h6.2M627.61 151.94h6.2" stroke="#e4b246" stroke-width="2.1" fill="none"/>
<path d="M647.00 89.91V152.41M643.90 89.91h6.2M643.90 152.41h6.2" stroke="#e4b246" stroke-width="2.1" fill="none"/>
<path d="M663.28 89.91V152.41M660.18 89.91h6.2M660.18 152.41h6.2" stroke="#e4b246" stroke-width="2.1" fill="none"/>
<path d="M679.57 89.91V152.41M676.47 89.91h6.2M676.47 152.41h6.2" stroke="#e4b246" stroke-width="2.1" fill="none"/>
<polyline points="402.72,130.84 419.00,115.06 435.29,120.53 451.57,125.06 467.86,116.16 484.14,112.88 500.43,107.56 516.71,97.72 533.00,95.84 549.29,94.59 565.57,99.28 581.86,106.78 598.14,112.88 614.43,116.31 630.71,119.75 647.00,121.16 663.28,121.16 679.57,121.16" fill="none" stroke="#e4b246" stroke-width="2.2" stroke-linejoin="round"/>
<circle cx="402.72" cy="130.84" r="2.70" fill="#e9c067" stroke="#e4b246" stroke-width="1.2"/>
<circle cx="419.00" cy="115.06" r="2.70" fill="#e9c067" stroke="#e4b246" stroke-width="1.2"/>
<circle cx="435.29" cy="120.53" r="2.70" fill="#e9c067" stroke="#e4b246" stroke-width="1.2"/>
<circle cx="451.57" cy="125.06" r="2.70" fill="#e9c067" stroke="#e4b246" stroke-width="1.2"/>
<circle cx="467.86" cy="116.16" r="2.70" fill="#e9c067" stroke="#e4b246" stroke-width="1.2"/>
<circle cx="484.14" cy="112.88" r="2.70" fill="#e9c067" stroke="#e4b246" stroke-width="1.2"/>
<circle cx="500.43" cy="107.56" r="2.70" fill="#e9c067" stroke="#e4b246" stroke-width="1.2"/>
<circle cx="516.71" cy="97.72" r="2.70" fill="#e9c067" stroke="#e4b246" stroke-width="1.2"/>
<circle cx="533.00" cy="95.84" r="2.70" fill="#e9c067" stroke="#e4b246" stroke-width="1.2"/>
<circle cx="549.29" cy="94.59" r="2.70" fill="#e9c067" stroke="#e4b246" stroke-width="1.2"/>
<circle cx="565.57" cy="99.28" r="2.70" fill="#e9c067" stroke="#e4b246" stroke-width="1.2"/>
<circle cx="581.86" cy="106.78" r="2.70" fill="#e9c067" stroke="#e4b246" stroke-width="1.2"/>
<circle cx="598.14" cy="112.88" r="2.70" fill="#e9c067" stroke="#e4b246" stroke-width="1.2"/>
<circle cx="614.43" cy="116.31" r="2.70" fill="#e9c067" stroke="#e4b246" stroke-width="1.2"/>
<circle cx="630.71" cy="119.75" r="2.70" fill="#e9c067" stroke="#e4b246" stroke-width="1.2"/>
<circle cx="647.00" cy="121.16" r="2.70" fill="#e9c067" stroke="#e4b246" stroke-width="1.2"/>
<circle cx="663.28" cy="121.16" r="2.70" fill="#e9c067" stroke="#e4b246" stroke-width="1.2"/>
<circle cx="679.57" cy="121.16" r="2.70" fill="#e9c067" stroke="#e4b246" stroke-width="1.2"/>
<path d="M402.72 115.84V198.66M399.62 115.84h6.2M399.62 198.66h6.2" stroke="#7d41a0" stroke-width="2.1" fill="none"/>
<path d="M419.00 98.97V171.47M415.90 98.97h6.2M415.90 171.47h6.2" stroke="#7d41a0" stroke-width="2.1" fill="none"/>
<path d="M435.29 81.47V146.47M432.19 81.47h6.2M432.19 146.47h6.2" stroke="#7d41a0" stroke-width="2.1" fill="none"/>
<path d="M451.57 78.97V142.72M448.47 78.97h6.2M448.47 142.72h6.2" stroke="#7d41a0" stroke-width="2.1" fill="none"/>
<path d="M467.86 81.94V146.00M464.76 81.94h6.2M464.76 146.00h6.2" stroke="#7d41a0" stroke-width="2.1" fill="none"/>
<path d="M484.14 83.81V146.31M481.04 83.81h6.2M481.04 146.31h6.2" stroke="#7d41a0" stroke-width="2.1" fill="none"/>
<path d="M500.43 76.16V141.16M497.33 76.16h6.2M497.33 141.16h6.2" stroke="#7d41a0" stroke-width="2.1" fill="none"/>
<path d="M516.71 69.20V125.45M513.61 69.20h6.2M513.61 125.45h6.2" stroke="#7d41a0" stroke-width="2.1" fill="none"/>
<path d="M533.00 65.92V122.17M529.90 65.92h6.2M529.90 122.17h6.2" stroke="#7d41a0" stroke-width="2.1" fill="none"/>
<path d="M549.29 64.13V118.81M546.19 64.13h6.2M546.19 118.81h6.2" stroke="#7d41a0" stroke-width="2.1" fill="none"/>
<path d="M565.57 66.86V123.11M562.47 66.86h6.2M562.47 123.11h6.2" stroke="#7d41a0" stroke-width="2.1" fill="none"/>
<path d="M581.86 71.94V131.94M578.76 71.94h6.2M578.76 131.94h6.2" stroke="#7d41a0" stroke-width="2.1" fill="none"/>
<path d="M598.14 88.97V157.09M595.04 88.97h6.2M595.04 157.09h6.2" stroke="#7d41a0" stroke-width="2.1" fill="none"/>
<path d="M614.43 118.97V193.97M611.33 118.97h6.2M611.33 193.97h6.2" stroke="#7d41a0" stroke-width="2.1" fill="none"/>
<path d="M630.71 143.50V217.25M627.61 143.50h6.2M627.61 217.25h6.2" stroke="#7d41a0" stroke-width="2.1" fill="none"/>
<path d="M647.00 151.47V225.22M643.90 151.47h6.2M643.90 225.22h6.2" stroke="#7d41a0" stroke-width="2.1" fill="none"/>
<path d="M663.28 151.47V225.22M660.18 151.47h6.2M660.18 225.22h6.2" stroke="#7d41a0" stroke-width="2.1" fill="none"/>
<path d="M679.57 151.47V225.22M676.47 151.47h6.2M676.47 225.22h6.2" stroke="#7d41a0" stroke-width="2.1" fill="none"/>
<polyline points="402.72,157.25 419.00,135.22 435.29,113.97 451.57,110.84 467.86,113.97 484.14,115.06 500.43,108.66 516.71,97.33 533.00,94.05 549.29,91.47 565.57,94.98 581.86,101.94 598.14,123.03 614.43,156.47 630.71,180.38 647.00,188.34 663.28,188.34 679.57,188.34" fill="none" stroke="#7d41a0" stroke-width="2.2" stroke-linejoin="round"/>
<circle cx="402.72" cy="157.25" r="2.70" fill="#9463b1" stroke="#7d41a0" stroke-width="1.2"/>
<circle cx="419.00" cy="135.22" r="2.70" fill="#9463b1" stroke="#7d41a0" stroke-width="1.2"/>
<circle cx="435.29" cy="113.97" r="2.70" fill="#9463b1" stroke="#7d41a0" stroke-width="1.2"/>
<circle cx="451.57" cy="110.84" r="2.70" fill="#9463b1" stroke="#7d41a0" stroke-width="1.2"/>
<circle cx="467.86" cy="113.97" r="2.70" fill="#9463b1" stroke="#7d41a0" stroke-width="1.2"/>
<circle cx="484.14" cy="115.06" r="2.70" fill="#9463b1" stroke="#7d41a0" stroke-width="1.2"/>
<circle cx="500.43" cy="108.66" r="2.70" fill="#9463b1" stroke="#7d41a0" stroke-width="1.2"/>
<circle cx="516.71" cy="97.33" r="2.70" fill="#9463b1" stroke="#7d41a0" stroke-width="1.2"/>
<circle cx="533.00" cy="94.05" r="2.70" fill="#9463b1" stroke="#7d41a0" stroke-width="1.2"/>
<circle cx="549.29" cy="91.47" r="2.70" fill="#9463b1" stroke="#7d41a0" stroke-width="1.2"/>
<circle cx="565.57" cy="94.98" r="2.70" fill="#9463b1" stroke="#7d41a0" stroke-width="1.2"/>
<circle cx="581.86" cy="101.94" r="2.70" fill="#9463b1" stroke="#7d41a0" stroke-width="1.2"/>
<circle cx="598.14" cy="123.03" r="2.70" fill="#9463b1" stroke="#7d41a0" stroke-width="1.2"/>
<circle cx="614.43" cy="156.47" r="2.70" fill="#9463b1" stroke="#7d41a0" stroke-width="1.2"/>
<circle cx="630.71" cy="180.38" r="2.70" fill="#9463b1" stroke="#7d41a0" stroke-width="1.2"/>
<circle cx="647.00" cy="188.34" r="2.70" fill="#9463b1" stroke="#7d41a0" stroke-width="1.2"/>
<circle cx="663.28" cy="188.34" r="2.70" fill="#9463b1" stroke="#7d41a0" stroke-width="1.2"/>
<circle cx="679.57" cy="188.34" r="2.70" fill="#9463b1" stroke="#7d41a0" stroke-width="1.2"/>
<rect x="418" y="37" width="1" height="32" fill="#3cc8f0" opacity="0.8"/>
<rect x="418" y="82" width="1" height="15" fill="#f8e810" opacity="0.85"/>
<rect x="418" y="101" width="1" height="31" fill="#2030f0" opacity="0.8"/>
<rect x="418" y="139" width="1" height="33" fill="#2030f0" opacity="0.8"/>
<rect x="632" y="66" width="1" height="20" fill="#3cc8f0" opacity="0.8"/>
<rect x="632" y="90" width="1" height="50" fill="#f8e010" opacity="0.8"/>
<rect x="632" y="146" width="1" height="30" fill="#e020e0" opacity="0.7"/>
<rect x="632" y="182" width="1" height="34" fill="#e020e0" opacity="0.7"/>
<rect x="385" y="16" width="1" height="252" fill="#505050"/>
<rect x="386" y="16" width="1" height="252" fill="#828282"/>
<rect x="387" y="16" width="1" height="252" fill="#c8c8c8"/>
<rect x="385" y="16" width="296" height="1" fill="#969696"/>
<rect x="385" y="17" width="296" height="1" fill="#6e6e6e"/>
<rect x="385" y="266" width="296" height="1" fill="#828282"/>
<rect x="385" y="267" width="296" height="1" fill="#787878"/>
<rect x="679" y="16" width="1" height="252" fill="#969696"/>
<rect x="680" y="16" width="1" height="252" fill="#646464"/>
<rect x="418" y="263.4" width="2" height="2.6" fill="#8a8a8a"/>
<rect x="418" y="18" width="2" height="2.4" fill="#8a8a8a"/>
<rect x="451" y="263.4" width="2" height="2.6" fill="#8a8a8a"/>
<rect x="451" y="18" width="2" height="2.4" fill="#8a8a8a"/>
<rect x="483" y="263.4" width="2" height="2.6" fill="#8a8a8a"/>
<rect x="483" y="18" width="2" height="2.4" fill="#8a8a8a"/>
<rect x="516" y="263.4" width="2" height="2.6" fill="#8a8a8a"/>
<rect x="516" y="18" width="2" height="2.4" fill="#8a8a8a"/>
<rect x="548" y="263.4" width="3" height="2.6" fill="#8a8a8a"/>
<rect x="548" y="18" width="3" height="2.4" fill="#8a8a8a"/>
<rect x="581" y="263.4" width="2" height="2.6" fill="#8a8a8a"/>
<rect x="581" y="18" width="2" height="2.4" fill="#8a8a8a"/>
<rect x="613" y="263.4" width="3" height="2.6" fill="#8a8a8a"/>
<rect x="613" y="18" width="3" height="2.4" fill="#8a8a8a"/>
<rect x="646" y="263.4" width="2" height="2.6" fill="#8a8a8a"/>
<rect x="646" y="18" width="2" height="2.4" fill="#8a8a8a"/>
<rect x="388" y="48" width="2.4" height="1" fill="#8a8a8a"/>
<rect x="676.6" y="48" width="2.4" height="1" fill="#8a8a8a"/>
<rect x="388" y="79" width="2.4" height="2" fill="#8a8a8a"/>
<rect x="676.6" y="79" width="2.4" height="2" fill="#8a8a8a"/>
<rect x="388" y="110" width="2.4" height="2" fill="#8a8a8a"/>
<rect x="676.6" y="110" width="2.4" height="2" fill="#8a8a8a"/>
<rect x="388" y="141" width="2.4" height="2" fill="#8a8a8a"/>
<rect x="676.6" y="141" width="2.4" height="2" fill="#8a8a8a"/>
<rect x="388" y="172" width="2.4" height="3" fill="#8a8a8a"/>
<rect x="676.6" y="172" width="2.4" height="3" fill="#8a8a8a"/>
<rect x="388" y="203" width="2.4" height="3" fill="#8a8a8a"/>
<rect x="676.6" y="203" width="2.4" height="3" fill="#8a8a8a"/>
<rect x="388" y="235" width="2.4" height="2" fill="#8a8a8a"/>
<rect x="676.6" y="235" width="2.4" height="2" fill="#8a8a8a"/>
<text class="tl" transform="translate(382.93,21.25) scale(1,1.1)" text-anchor="end">1</text>
<text class="tl" transform="translate(382.93,52.50) scale(1,1.1)" text-anchor="end">0.8</text>
<text class="tl" transform="translate(382.93,83.75) scale(1,1.1)" text-anchor="end">0.6</text>
<text class="tl" transform="translate(382.93,115.00) scale(1,1.1)" text-anchor="end">0.4</text>
<text class="tl" transform="translate(382.93,146.25) scale(1,1.1)" text-anchor="end">0.2</text>
<text class="tl" transform="translate(382.93,177.50) scale(1,1.1)" text-anchor="end">0</text>
<text class="tl" transform="translate(382.93,208.75) scale(1,1.1)" text-anchor="end">-0.2</text>
<text class="tl" transform="translate(382.93,240.00) scale(1,1.1)" text-anchor="end">-0.4</text>
<text class="tl" transform="translate(382.93,271.25) scale(1,1.1)" text-anchor="end">-0.6</text>
<text class="tl" transform="translate(386.43,280.80) scale(1,1.1)" text-anchor="middle">0</text>
<text class="tl" transform="translate(419.00,280.80) scale(1,1.1)" text-anchor="middle">10</text>
<text class="tl" transform="translate(451.57,280.80) scale(1,1.1)" text-anchor="middle">20</text>
<text class="tl" transform="translate(484.14,280.80) scale(1,1.1)" text-anchor="middle">30</text>
<text class="tl" transform="translate(516.71,280.80) scale(1,1.1)" text-anchor="middle">40</text>
<text class="tl" transform="translate(549.29,280.80) scale(1,1.1)" text-anchor="middle">50</text>
<text class="tl" transform="translate(581.86,280.80) scale(1,1.1)" text-anchor="middle">60</text>
<text class="tl" transform="translate(614.43,280.80) scale(1,1.1)" text-anchor="middle">70</text>
<text class="tl" transform="translate(647.00,280.80) scale(1,1.1)" text-anchor="middle">80</text>
<text class="tl" transform="translate(679.57,280.80) scale(1,1.1)" text-anchor="middle">90</text>
<text class="ti" transform="translate(533.00,9.50) scale(1,1.1)" text-anchor="middle">Correlations EIT vs. AIA</text>
<text class="xl" transform="translate(532.70,295.30)" text-anchor="middle">Latitude [deg]</text>
<rect x="397.6" y="206.4" width="131.20" height="48.50" fill="#fff"/>
<line x1="399.3" y1="212.60" x2="425.3" y2="212.60" stroke="#4f86cc" stroke-width="2.2"/>
<line x1="412.30" y1="206.90" x2="412.30" y2="218.30" stroke="#6495d2" stroke-width="5"/>
<circle cx="412.30" cy="212.60" r="2.9" fill="#6f9cd5" stroke="#4f86cc" stroke-width="1.2"/>
<text class="lg" transform="translate(426.40,216.60) scale(1,1.1)" text-anchor="start">cc(EIT/195 Å, AIA/193 Å)</text>
<line x1="399.3" y1="224.55" x2="425.3" y2="224.55" stroke="#d0683a" stroke-width="2.2"/>
<line x1="412.30" y1="218.85" x2="412.30" y2="230.25" stroke="#d67a52" stroke-width="5"/>
<circle cx="412.30" cy="224.55" r="2.9" fill="#d8835d" stroke="#d0683a" stroke-width="1.2"/>
<text class="lg" transform="translate(426.40,228.55) scale(1,1.1)" text-anchor="start">cc(EIT/171 Å, AIA/171 Å)</text>
<line x1="399.3" y1="236.50" x2="425.3" y2="236.50" stroke="#e4b246" stroke-width="2.2"/>
<line x1="412.30" y1="230.80" x2="412.30" y2="242.20" stroke="#e7bb5c" stroke-width="5"/>
<circle cx="412.30" cy="236.50" r="2.9" fill="#e9c067" stroke="#e4b246" stroke-width="1.2"/>
<text class="lg" transform="translate(426.40,240.50) scale(1,1.1)" text-anchor="start">cc(EIT/284 Å, AIA/211 Å)</text>
<line x1="399.3" y1="248.45" x2="425.3" y2="248.45" stroke="#7d41a0" stroke-width="2.2"/>
<line x1="412.30" y1="242.75" x2="412.30" y2="254.15" stroke="#8d58ab" stroke-width="5"/>
<circle cx="412.30" cy="248.45" r="2.9" fill="#9463b1" stroke="#7d41a0" stroke-width="1.2"/>
<text class="lg" transform="translate(426.40,252.45) scale(1,1.1)" text-anchor="start">cc(EIT/304 Å, AIA/304 Å)</text>
<text class="yl" transform="translate(9.30,141.55) rotate(-90)" text-anchor="middle">Correlation</text>
<text class="yl" transform="translate(361.30,141.55) rotate(-90)" text-anchor="middle">Correlation</text>
</g>
</svg></body></html>
